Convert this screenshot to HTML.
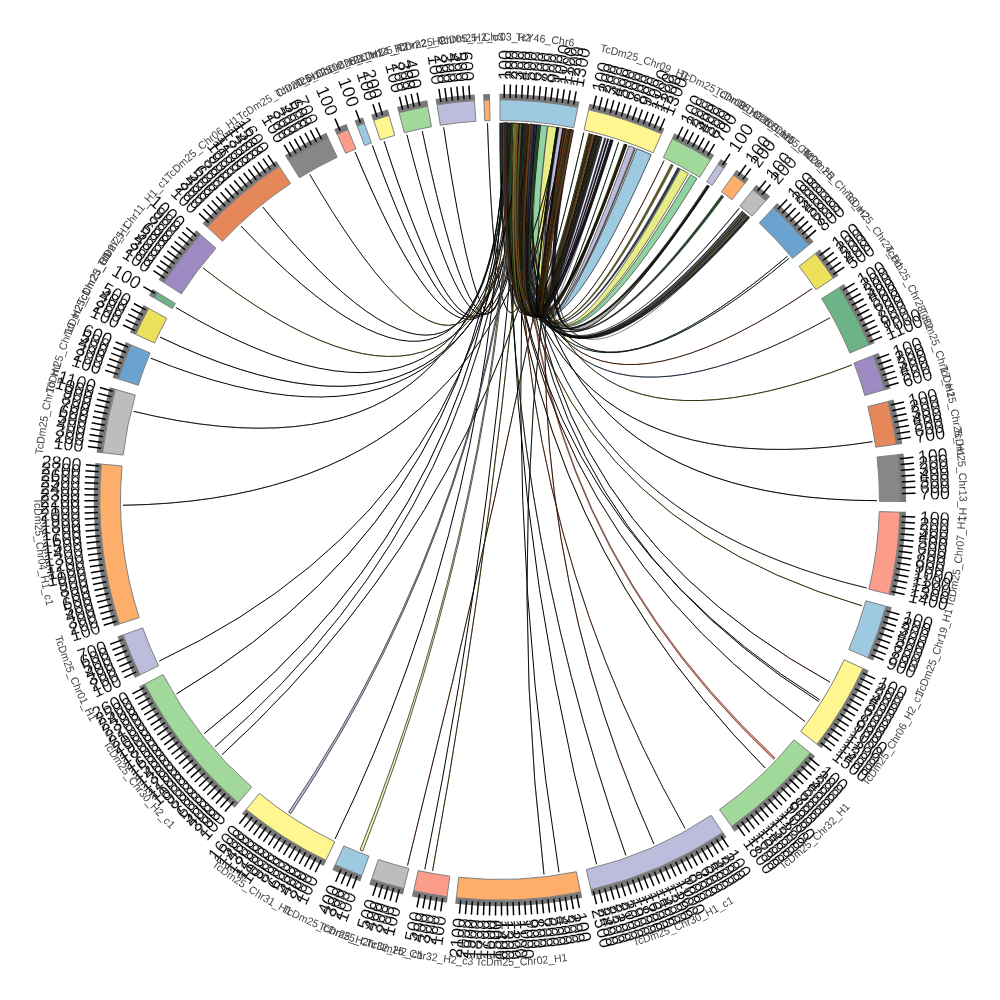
<!DOCTYPE html>
<html><head><meta charset="utf-8"><title>Chord diagram</title>
<style>
html,body{margin:0;padding:0;background:#fff;}
body{width:1000px;height:1000px;overflow:hidden;}
svg{display:block;font-family:"Liberation Sans",sans-serif;}
</style></head><body>
<svg width="1000" height="1000" viewBox="0 0 1000 1000">
<rect width="1000" height="1000" fill="#fff"/>
<g>
<path d="M501.97,123.01 A377,377 0 0 1 523.67,123.74 Q500,500 636.95,148.75 A377,377 0 0 1 651.23,154.66 Q500,500 501.97,123.01 Z" fill="#9ECAE1" stroke="#333" stroke-width="0.8"/>
<path d="M540.06,125.13 A377,377 0 0 1 547.58,126.01 Q500,500 690.49,174.67 A377,377 0 0 1 696.98,178.55 Q500,500 540.06,125.13 Z" fill="#8FD3A0" stroke="#333" stroke-width="0.7"/>
<path d="M547.9,126.06 A377,377 0 0 1 556.7,127.29 Q500,500 680.47,169 A377,377 0 0 1 688.5,173.51 Q500,500 547.9,126.06 Z" fill="#E6EC86" stroke="#333" stroke-width="0.7"/>
<path d="M558.98,127.64 A377,377 0 0 1 563.2,128.33 Q500,500 628.94,145.74 A377,377 0 0 1 634.49,147.8 Q500,500 558.98,127.64 Z" fill="#BCBDDC" stroke="#333" stroke-width="0.7"/>
<path d="M530.56,124.24 A377,377 0 0 1 531.55,124.32 Q500,500 625.02,144.33 A377,377 0 0 1 626.05,144.7 Q500,500 530.56,124.24 Z" fill="#7a7428" stroke="#000" stroke-width="0.28"/>
<path d="M529.79,124.18 Q500,500 406.88,134.68" fill="none" stroke="#000" stroke-width="1.0"/>
<path d="M508.36,123.09 Q500,500 204.14,733.66" fill="none" stroke="#000" stroke-width="1.0"/>
<path d="M508.36,123.09 Q500,500 204.14,733.66" fill="none" stroke="#18243c" stroke-width="0.35"/>
<path d="M534.39,124.57 Q500,500 355.12,151.95" fill="none" stroke="#000" stroke-width="1.0"/>
<path d="M534.39,124.57 Q500,500 355.12,151.95" fill="none" stroke="#572718" stroke-width="0.35"/>
<path d="M505.55,123.04 A377,377 0 0 1 506.98,123.06 Q500,500 610.7,139.62 A377,377 0 0 1 611.08,139.74 Q500,500 505.55,123.04 Z" fill="#20283a" stroke="#000" stroke-width="0.25"/>
<path d="M512.94,123.22 A377,377 0 0 1 515.77,123.33 Q500,500 589.36,133.74 A377,377 0 0 1 589.75,133.84 Q500,500 512.94,123.22 Z" fill="#111111" stroke="#000" stroke-width="0.25"/>
<path d="M537.77,124.9 A377,377 0 0 1 539.08,125.03 Q500,500 604.55,137.79 A377,377 0 0 1 606.13,138.25 Q500,500 537.77,124.9 Z" fill="#2a2050" stroke="#000" stroke-width="0.28"/>
<path d="M508.88,123.1 A377,377 0 0 1 509.79,123.13 Q500,500 744.03,212.63 A377,377 0 0 1 744.68,213.18 Q500,500 508.88,123.1 Z" fill="#20283a" stroke="#000" stroke-width="0.28"/>
<path d="M530.66,124.25 A377,377 0 0 1 532.11,124.37 Q500,500 591.38,134.24 A377,377 0 0 1 591.76,134.34 Q500,500 530.66,124.25 Z" fill="#4a3a7a" stroke="#000" stroke-width="0.25"/>
<path d="M524.33,123.79 A377,377 0 0 1 525.64,123.87 Q500,500 677.57,167.44 A377,377 0 0 1 678.73,168.06 Q500,500 524.33,123.79 Z" fill="#333a4a" stroke="#000" stroke-width="0.28"/>
<path d="M524.76,123.81 A377,377 0 0 1 527.08,123.97 Q500,500 611.96,140.01 A377,377 0 0 1 612.33,140.12 Q500,500 524.76,123.81 Z" fill="#3a4a6a" stroke="#000" stroke-width="0.25"/>
<path d="M523.02,123.7 A377,377 0 0 1 524.33,123.79 Q500,500 678.73,168.06 A377,377 0 0 1 679.89,168.69 Q500,500 523.02,123.7 Z" fill="#2a3a5a" stroke="#000" stroke-width="0.28"/>
<path d="M509.79,123.13 A377,377 0 0 1 510.69,123.15 Q500,500 743.38,212.08 A377,377 0 0 1 744.03,212.63 Q500,500 509.79,123.13 Z" fill="#6a6420" stroke="#000" stroke-width="0.28"/>
<path d="M570.01,129.56 A377,377 0 0 1 571.59,129.86 Q500,500 748.7,216.67 A377,377 0 0 1 749,216.93 Q500,500 570.01,129.56 Z" fill="#2a4a2a" stroke="#000" stroke-width="0.25"/>
<path d="M537.21,124.84 A377,377 0 0 1 540.32,125.16 Q500,500 625.55,144.52 A377,377 0 0 1 625.92,144.65 Q500,500 537.21,124.84 Z" fill="#6a3a1c" stroke="#000" stroke-width="0.25"/>
<path d="M569.05,129.38 A377,377 0 0 1 571.26,129.8 Q500,500 591.06,134.16 A377,377 0 0 1 591.45,134.26 Q500,500 569.05,129.38 Z" fill="#7a7428" stroke="#000" stroke-width="0.25"/>
<path d="M515.92,123.34 Q500,500 443.63,127.24" fill="none" stroke="#000" stroke-width="1.0"/>
<path d="M532.86,124.43 A377,377 0 0 1 534.33,124.57 Q500,500 611.8,139.96 A377,377 0 0 1 613.37,140.45 Q500,500 532.86,124.43 Z" fill="#241a48" stroke="#000" stroke-width="0.28"/>
<path d="M565.14,128.67 Q500,500 222.05,754.7" fill="none" stroke="#000" stroke-width="1.0"/>
<path d="M565.14,128.67 Q500,500 222.05,754.7" fill="none" stroke="#2e4c30" stroke-width="0.35"/>
<path d="M499.46,123 A377,377 0 0 1 501.61,123 Q500,500 597.57,135.85 A377,377 0 0 1 597.95,135.95 Q500,500 499.46,123 Z" fill="#222222" stroke="#000" stroke-width="0.25"/>
<path d="M507.98,123.08 A377,377 0 0 1 508.88,123.1 Q500,500 744.68,213.18 A377,377 0 0 1 745.32,213.74 Q500,500 507.98,123.08 Z" fill="#BCBDDC" stroke="#000" stroke-width="0.28"/>
<path d="M526.16,123.91 A377,377 0 0 1 527.5,124 Q500,500 599.2,136.28 A377,377 0 0 1 599.58,136.39 Q500,500 526.16,123.91 Z" fill="#6a3a1c" stroke="#000" stroke-width="0.25"/>
<path d="M507.07,123.07 A377,377 0 0 1 507.98,123.08 Q500,500 745.32,213.74 A377,377 0 0 1 745.97,214.29 Q500,500 507.07,123.07 Z" fill="#2f4a2a" stroke="#000" stroke-width="0.28"/>
<path d="M563.39,128.37 A377,377 0 0 1 564.43,128.55 Q500,500 595.03,135.17 A377,377 0 0 1 595.98,135.42 Q500,500 563.39,128.37 Z" fill="#3a3a3a" stroke="#000" stroke-width="0.28"/>
<path d="M516.46,123.36 A377,377 0 0 1 519.04,123.48 Q500,500 626.52,144.86 A377,377 0 0 1 626.89,145 Q500,500 516.46,123.36 Z" fill="#5a5a1c" stroke="#000" stroke-width="0.25"/>
<path d="M522.42,123.67 Q500,500 818.66,701.45" fill="none" stroke="#000" stroke-width="1.0"/>
<path d="M522.42,123.67 Q500,500 818.66,701.45" fill="none" stroke="#3f576f" stroke-width="0.35"/>
<path d="M504.16,123.02 Q500,500 861.85,605.81" fill="none" stroke="#000" stroke-width="1.0"/>
<path d="M504.16,123.02 Q500,500 861.85,605.81" fill="none" stroke="#9f9627" stroke-width="0.35"/>
<path d="M532.38,124.39 Q500,500 160.01,337.1" fill="none" stroke="#000" stroke-width="1.0"/>
<path d="M532.38,124.39 Q500,500 160.01,337.1" fill="none" stroke="#3f180c" stroke-width="0.35"/>
<path d="M564.49,128.56 A377,377 0 0 1 565.14,128.67 Q500,500 595.19,135.22 A377,377 0 0 1 595.98,135.42 Q500,500 564.49,128.56 Z" fill="#333a4a" stroke="#000" stroke-width="0.28"/>
<path d="M526.27,123.92 A377,377 0 0 1 527.87,124.03 Q500,500 601.72,136.98 A377,377 0 0 1 602.1,137.09 Q500,500 526.27,123.92 Z" fill="#4a2a16" stroke="#000" stroke-width="0.25"/>
<path d="M565.94,128.81 Q500,500 618.69,142.17" fill="none" stroke="#000" stroke-width="1.0"/>
<path d="M565.94,128.81 Q500,500 618.69,142.17" fill="none" stroke="#2e6f3f" stroke-width="0.35"/>
<path d="M513.16,123.23 A377,377 0 0 1 513.81,123.25 Q500,500 738.78,208.26 A377,377 0 0 1 739.29,208.68 Q500,500 513.16,123.23 Z" fill="#151515" stroke="#000" stroke-width="0.28"/>
<path d="M570.68,129.69 A377,377 0 0 1 573.63,130.26 Q500,500 708.76,186.08 A377,377 0 0 1 709.09,186.3 Q500,500 570.68,129.69 Z" fill="#2a2238" stroke="#000" stroke-width="0.25"/>
<path d="M503.92,123.02 A377,377 0 0 1 505.44,123.04 Q500,500 625.33,144.44 A377,377 0 0 1 625.71,144.58 Q500,500 503.92,123.02 Z" fill="#555555" stroke="#000" stroke-width="0.25"/>
<path d="M518.92,123.47 A377,377 0 0 1 522.04,123.64 Q500,500 600.44,136.63 A377,377 0 0 1 600.82,136.73 Q500,500 518.92,123.47 Z" fill="#7a7428" stroke="#000" stroke-width="0.25"/>
<path d="M519.57,123.51 A377,377 0 0 1 520.39,123.55 Q500,500 708.22,185.72 A377,377 0 0 1 708.83,186.13 Q500,500 519.57,123.51 Z" fill="#4a3a20" stroke="#000" stroke-width="0.28"/>
<path d="M570.21,129.6 A377,377 0 0 1 571.4,129.82 Q500,500 589.71,133.83 A377,377 0 0 1 590.78,134.09 Q500,500 570.21,129.6 Z" fill="#7a7428" stroke="#000" stroke-width="0.28"/>
<path d="M516.34,123.35 Q500,500 159.16,661.11" fill="none" stroke="#000" stroke-width="1.0"/>
<path d="M505.75,123.04 A377,377 0 0 1 509.01,123.11 Q500,500 708.63,185.99 A377,377 0 0 1 708.96,186.21 Q500,500 505.75,123.04 Z" fill="#4a3a7a" stroke="#000" stroke-width="0.25"/>
<path d="M503.61,123.02 Q500,500 335.03,838.99" fill="none" stroke="#000" stroke-width="1.0"/>
<path d="M517.09,123.39 Q500,500 812.18,288.64" fill="none" stroke="#000" stroke-width="1.0"/>
<path d="M517.09,123.39 Q500,500 812.18,288.64" fill="none" stroke="#b75727" stroke-width="0.35"/>
<path d="M521.21,123.6 A377,377 0 0 1 522.03,123.64 Q500,500 706.98,184.9 A377,377 0 0 1 707.6,185.31 Q500,500 521.21,123.6 Z" fill="#6b3a1c" stroke="#000" stroke-width="0.28"/>
<path d="M526,123.9 Q500,500 830.05,682.2" fill="none" stroke="#000" stroke-width="1.0"/>
<path d="M526,123.9 Q500,500 830.05,682.2" fill="none" stroke="#6f271b" stroke-width="0.35"/>
<path d="M526.3,123.92 A377,377 0 0 1 527.61,124.01 Q500,500 775.05,757.83 A377,377 0 0 1 773.69,759.27 Q500,500 526.3,123.92 Z" fill="#E89078" stroke="#3a1a10" stroke-width="0.6"/>
<path d="M530.42,124.23 A377,377 0 0 1 531.87,124.35 Q500,500 745.46,213.85 A377,377 0 0 1 745.76,214.11 Q500,500 530.42,124.23 Z" fill="#111111" stroke="#000" stroke-width="0.25"/>
<path d="M500.81,123 A377,377 0 0 1 502.68,123.01 Q500,500 742.3,211.17 A377,377 0 0 1 742.6,211.43 Q500,500 500.81,123 Z" fill="#3a4a6a" stroke="#000" stroke-width="0.25"/>
<path d="M516.62,123.37 Q500,500 384.13,141.25" fill="none" stroke="#000" stroke-width="1.0"/>
<path d="M516.62,123.37 Q500,500 384.13,141.25" fill="none" stroke="#1e3042" stroke-width="0.35"/>
<path d="M505.03,123.03 A377,377 0 0 1 507.31,123.07 Q500,500 611.57,139.89 A377,377 0 0 1 611.94,140 Q500,500 505.03,123.03 Z" fill="#6a3a1c" stroke="#000" stroke-width="0.25"/>
<path d="M531.55,124.32 A377,377 0 0 1 532.53,124.41 Q500,500 623.98,143.97 A377,377 0 0 1 625.02,144.33 Q500,500 531.55,124.32 Z" fill="#6a6420" stroke="#000" stroke-width="0.28"/>
<path d="M557.84,127.46 A377,377 0 0 1 558.11,127.51 Q500,500 598.1,135.99 A377,377 0 0 1 599.16,136.28 Q500,500 557.84,127.46 Z" fill="#555555" stroke="#000" stroke-width="0.28"/>
<path d="M502.55,123.01 A377,377 0 0 1 503.45,123.02 Q500,500 748.53,216.52 A377,377 0 0 1 749.17,217.08 Q500,500 502.55,123.01 Z" fill="#2a2050" stroke="#000" stroke-width="0.28"/>
<path d="M508.68,123.1 Q500,500 830.05,317.8" fill="none" stroke="#000" stroke-width="1.0"/>
<path d="M508.68,123.1 Q500,500 830.05,317.8" fill="none" stroke="#5787b7" stroke-width="0.35"/>
<path d="M536.64,124.79 A377,377 0 0 1 538.85,125.01 Q500,500 708.42,185.85 A377,377 0 0 1 708.75,186.07 Q500,500 536.64,124.79 Z" fill="#4a2a16" stroke="#000" stroke-width="0.25"/>
<path d="M527.38,124 Q500,500 877,500.66" fill="none" stroke="#000" stroke-width="1.0"/>
<path d="M527.38,124 Q500,500 877,500.66" fill="none" stroke="#271b18" stroke-width="0.35"/>
<path d="M558.24,127.53 Q500,500 123.04,505.26" fill="none" stroke="#000" stroke-width="1.0"/>
<path d="M558.24,127.53 Q500,500 123.04,505.26" fill="none" stroke="#1e3c5a" stroke-width="0.35"/>
<path d="M503.45,123.02 A377,377 0 0 1 504.36,123.03 Q500,500 747.89,215.96 A377,377 0 0 1 748.53,216.52 Q500,500 503.45,123.02 Z" fill="#555555" stroke="#000" stroke-width="0.28"/>
<path d="M513.36,123.24 A377,377 0 0 1 515.5,123.32 Q500,500 626.4,144.82 A377,377 0 0 1 626.77,144.95 Q500,500 513.36,123.24 Z" fill="#222222" stroke="#000" stroke-width="0.25"/>
<path d="M515.79,123.33 A377,377 0 0 1 516.77,123.37 Q500,500 722.34,195.54 A377,377 0 0 1 723.08,196.09 Q500,500 515.79,123.33 Z" fill="#1f3a20" stroke="#000" stroke-width="0.28"/>
<path d="M504.87,123.03 Q500,500 872.46,441.67" fill="none" stroke="#000" stroke-width="1.0"/>
<path d="M504.87,123.03 Q500,500 872.46,441.67" fill="none" stroke="#573018" stroke-width="0.35"/>
<path d="M538.75,125 A377,377 0 0 1 540.7,125.2 Q500,500 599.2,136.29 A377,377 0 0 1 599.58,136.39 Q500,500 538.75,125 Z" fill="#2a2238" stroke="#000" stroke-width="0.25"/>
<path d="M528.6,124.09 A377,377 0 0 1 529.25,124.14 Q500,500 635.1,148.04 A377,377 0 0 1 635.72,148.28 Q500,500 528.6,124.09 Z" fill="#6b3a1c" stroke="#000" stroke-width="0.28"/>
<path d="M566.3,128.87 A377,377 0 0 1 568.26,129.23 Q500,500 612.25,140.1 A377,377 0 0 1 612.63,140.22 Q500,500 566.3,128.87 Z" fill="#6a3a1c" stroke="#000" stroke-width="0.25"/>
<path d="M513.21,123.23 Q500,500 789.22,258.17" fill="none" stroke="#000" stroke-width="1.0"/>
<path d="M513.21,123.23 Q500,500 789.22,258.17" fill="none" stroke="#3f6f57" stroke-width="0.35"/>
<path d="M538.77,125 A377,377 0 0 1 540.38,125.17 Q500,500 599.66,136.41 A377,377 0 0 1 600.04,136.52 Q500,500 538.77,125 Z" fill="#3a6a3a" stroke="#000" stroke-width="0.25"/>
<path d="M556.52,127.26 A377,377 0 0 1 558.03,127.49 Q500,500 708.2,185.71 A377,377 0 0 1 708.53,185.92 Q500,500 556.52,127.26 Z" fill="#4a2a16" stroke="#000" stroke-width="0.25"/>
<path d="M525.02,123.83 A377,377 0 0 1 528.12,124.05 Q500,500 748.42,216.42 A377,377 0 0 1 748.71,216.68 Q500,500 525.02,123.83 Z" fill="#222222" stroke="#000" stroke-width="0.25"/>
<path d="M525.97,123.9 A377,377 0 0 1 527.12,123.98 Q500,500 672.33,164.69 A377,377 0 0 1 673.5,165.29 Q500,500 525.97,123.9 Z" fill="#7a7428" stroke="#000" stroke-width="0.28"/>
<path d="M569.66,129.49 A377,377 0 0 1 571.82,129.9 Q500,500 600.16,136.55 A377,377 0 0 1 600.55,136.65 Q500,500 569.66,129.49 Z" fill="#222222" stroke="#000" stroke-width="0.25"/>
<path d="M531.82,124.35 Q500,500 558.98,872.36" fill="none" stroke="#000" stroke-width="1.0"/>
<path d="M527.12,123.98 A377,377 0 0 1 528.27,124.06 Q500,500 671.15,164.09 A377,377 0 0 1 672.33,164.69 Q500,500 527.12,123.98 Z" fill="#6a6420" stroke="#000" stroke-width="0.28"/>
<path d="M515.42,123.32 Q500,500 215.04,746.84" fill="none" stroke="#000" stroke-width="1.0"/>
<path d="M515.42,123.32 Q500,500 215.04,746.84" fill="none" stroke="#6f4830" stroke-width="0.35"/>
<path d="M519.12,123.49 Q500,500 866.58,588.01" fill="none" stroke="#000" stroke-width="1.0"/>
<path d="M519.12,123.49 Q500,500 866.58,588.01" fill="none" stroke="#4f789f" stroke-width="0.35"/>
<path d="M504.24,123.02 Q500,500 262.75,207.02" fill="none" stroke="#000" stroke-width="1.0"/>
<path d="M504.24,123.02 Q500,500 262.75,207.02" fill="none" stroke="#2e5730" stroke-width="0.35"/>
<path d="M504.4,123.03 Q500,500 240.97,226.08" fill="none" stroke="#000" stroke-width="1.0"/>
<path d="M504.74,123.03 Q500,500 805,721.6" fill="none" stroke="#000" stroke-width="1.0"/>
<path d="M504.74,123.03 Q500,500 805,721.6" fill="none" stroke="#6f331b" stroke-width="0.35"/>
<path d="M563.62,128.41 Q500,500 653.94,844.14" fill="none" stroke="#000" stroke-width="1.0"/>
<path d="M563.62,128.41 Q500,500 653.94,844.14" fill="none" stroke="#9f3f1e" stroke-width="0.35"/>
<path d="M529.6,124.16 Q500,500 150.7,358.16" fill="none" stroke="#000" stroke-width="1.0"/>
<path d="M507.36,123.07 Q500,500 625.85,855.38" fill="none" stroke="#000" stroke-width="1.0"/>
<path d="M507.36,123.07 Q500,500 625.85,855.38" fill="none" stroke="#57571e" stroke-width="0.35"/>
<path d="M503.17,123.01 Q500,500 819.71,699.78" fill="none" stroke="#000" stroke-width="1.0"/>
<path d="M510.65,123.15 A377,377 0 0 1 512.98,123.22 Q500,500 626.05,144.7 A377,377 0 0 1 626.42,144.83 Q500,500 510.65,123.15 Z" fill="#222222" stroke="#000" stroke-width="0.25"/>
<path d="M522.13,123.65 Q500,500 372.3,145.29" fill="none" stroke="#000" stroke-width="1.0"/>
<path d="M522.13,123.65 Q500,500 372.3,145.29" fill="none" stroke="#573018" stroke-width="0.35"/>
<path d="M518.74,123.47 A377,377 0 0 1 519.57,123.51 Q500,500 708.83,186.13 A377,377 0 0 1 709.45,186.54 Q500,500 518.74,123.47 Z" fill="#2f4a2a" stroke="#000" stroke-width="0.28"/>
<path d="M562.54,128.22 A377,377 0 0 1 564.84,128.62 Q500,500 625.83,144.62 A377,377 0 0 1 626.21,144.75 Q500,500 562.54,128.22 Z" fill="#111111" stroke="#000" stroke-width="0.25"/>
<path d="M557.19,127.36 Q500,500 487.5,123.21" fill="none" stroke="#000" stroke-width="1.0"/>
<path d="M557.19,127.36 Q500,500 487.5,123.21" fill="none" stroke="#573018" stroke-width="0.35"/>
<path d="M513.16,123.23 A377,377 0 0 1 514.8,123.29 Q500,500 362.75,851.13 A377,377 0 0 1 359.99,850.04 Q500,500 513.16,123.23 Z" fill="#F4F0B0" stroke="#111" stroke-width="0.7"/>
<path d="M514.78,123.29 A377,377 0 0 1 517.24,123.39 Q500,500 590.75,134.09 A377,377 0 0 1 591.13,134.18 Q500,500 514.78,123.29 Z" fill="#6a3a1c" stroke="#000" stroke-width="0.25"/>
<path d="M565.14,128.67 A377,377 0 0 1 565.79,128.78 Q500,500 594.39,135.01 A377,377 0 0 1 595.19,135.22 Q500,500 565.14,128.67 Z" fill="#151515" stroke="#000" stroke-width="0.28"/>
<path d="M558.38,127.55 A377,377 0 0 1 558.65,127.59 Q500,500 595.98,135.42 A377,377 0 0 1 597.05,135.7 Q500,500 558.38,127.55 Z" fill="#555555" stroke="#000" stroke-width="0.28"/>
<path d="M529.58,124.16 A377,377 0 0 1 530.56,124.24 Q500,500 626.05,144.7 A377,377 0 0 1 627.08,145.07 Q500,500 529.58,124.16 Z" fill="#4a4a18" stroke="#000" stroke-width="0.28"/>
<path d="M516.08,123.34 A377,377 0 0 1 519.23,123.49 Q500,500 624.44,144.13 A377,377 0 0 1 624.82,144.26 Q500,500 516.08,123.34 Z" fill="#4a6a30" stroke="#000" stroke-width="0.25"/>
<path d="M532.96,124.44 Q500,500 851.96,364.9" fill="none" stroke="#000" stroke-width="1.0"/>
<path d="M532.96,124.44 Q500,500 851.96,364.9" fill="none" stroke="#9f9627" stroke-width="0.35"/>
<path d="M530.84,124.26 A377,377 0 0 1 534.03,124.54 Q500,500 707.81,185.45 A377,377 0 0 1 708.14,185.66 Q500,500 530.84,124.26 Z" fill="#333a4a" stroke="#000" stroke-width="0.25"/>
<path d="M504.36,123.03 A377,377 0 0 1 505.26,123.04 Q500,500 747.25,215.4 A377,377 0 0 1 747.89,215.96 Q500,500 504.36,123.03 Z" fill="#4a6a9a" stroke="#000" stroke-width="0.28"/>
<path d="M505.75,123.04 Q500,500 765.18,767.97" fill="none" stroke="#000" stroke-width="1.0"/>
<path d="M505.75,123.04 Q500,500 765.18,767.97" fill="none" stroke="#3f2718" stroke-width="0.35"/>
<path d="M523.37,123.73 Q500,500 422.26,131.1" fill="none" stroke="#000" stroke-width="1.0"/>
<path d="M523.37,123.73 Q500,500 422.26,131.1" fill="none" stroke="#6f331b" stroke-width="0.35"/>
<path d="M529.25,124.14 Q500,500 583.84,132.44" fill="none" stroke="#000" stroke-width="1.0"/>
<path d="M529.25,124.14 Q500,500 583.84,132.44" fill="none" stroke="#2e4c30" stroke-width="0.35"/>
<path d="M507.07,123.07 Q500,500 176.64,693.83" fill="none" stroke="#000" stroke-width="1.0"/>
<path d="M507.07,123.07 Q500,500 176.64,693.83" fill="none" stroke="#18243c" stroke-width="0.35"/>
<path d="M569.03,129.37 A377,377 0 0 1 570.21,129.6 Q500,500 590.78,134.09 A377,377 0 0 1 591.84,134.36 Q500,500 569.03,129.37 Z" fill="#6a6420" stroke="#000" stroke-width="0.28"/>
<path d="M535.29,124.66 Q500,500 787.53,256.16" fill="none" stroke="#000" stroke-width="1.0"/>
<path d="M535.29,124.66 Q500,500 787.53,256.16" fill="none" stroke="#2e5730" stroke-width="0.35"/>
<path d="M520.76,123.57 A377,377 0 0 1 522.33,123.66 Q500,500 610.96,139.7 A377,377 0 0 1 611.34,139.81 Q500,500 520.76,123.57 Z" fill="#222222" stroke="#000" stroke-width="0.25"/>
<path d="M536.13,124.74 A377,377 0 0 1 537.44,124.86 Q500,500 607.39,138.62 A377,377 0 0 1 608.96,139.09 Q500,500 536.13,124.74 Z" fill="#151515" stroke="#000" stroke-width="0.28"/>
<path d="M566.11,128.84 A377,377 0 0 1 567.41,129.08 Q500,500 593.12,134.68 A377,377 0 0 1 594.39,135.01 Q500,500 566.11,128.84 Z" fill="#9a5a2a" stroke="#000" stroke-width="0.28"/>
<path d="M506.17,123.05 A377,377 0 0 1 507.07,123.07 Q500,500 745.97,214.29 A377,377 0 0 1 746.61,214.85 Q500,500 506.17,123.05 Z" fill="#6a6420" stroke="#000" stroke-width="0.28"/>
<path d="M506.29,123.05 A377,377 0 0 1 507.64,123.08 Q500,500 599.3,136.31 A377,377 0 0 1 599.68,136.42 Q500,500 506.29,123.05 Z" fill="#5a5a1c" stroke="#000" stroke-width="0.25"/>
<path d="M569.25,129.42 A377,377 0 0 1 571.89,129.92 Q500,500 708.23,185.72 A377,377 0 0 1 708.55,185.94 Q500,500 569.25,129.42 Z" fill="#111111" stroke="#000" stroke-width="0.25"/>
<path d="M510.69,123.15 A377,377 0 0 1 511.6,123.18 Q500,500 742.73,211.54 A377,377 0 0 1 743.38,212.08 Q500,500 510.69,123.15 Z" fill="#6BA3D0" stroke="#000" stroke-width="0.28"/>
<path d="M570.78,129.7 Q500,500 407.52,865.48" fill="none" stroke="#000" stroke-width="1.0"/>
<path d="M570.78,129.7 Q500,500 407.52,865.48" fill="none" stroke="#9f3f27" stroke-width="0.35"/>
<path d="M557.3,127.38 A377,377 0 0 1 557.57,127.42 Q500,500 600.22,136.57 A377,377 0 0 1 601.28,136.86 Q500,500 557.3,127.38 Z" fill="#555555" stroke="#000" stroke-width="0.28"/>
<path d="M519.73,123.52 A377,377 0 0 1 521.37,123.61 Q500,500 290.82,813.65 A377,377 0 0 1 288.64,812.18 Q500,500 519.73,123.52 Z" fill="#BCBDDC" stroke="#111" stroke-width="0.7"/>
<path d="M521.98,123.64 Q500,500 685.07,828.45" fill="none" stroke="#000" stroke-width="1.0"/>
<path d="M521.98,123.64 Q500,500 685.07,828.45" fill="none" stroke="#b76024" stroke-width="0.35"/>
<path d="M501.64,123 A377,377 0 0 1 502.55,123.01 Q500,500 749.17,217.08 A377,377 0 0 1 749.81,217.64 Q500,500 501.64,123 Z" fill="#2f4a2a" stroke="#000" stroke-width="0.28"/>
<path d="M510.13,123.14 Q500,500 133.57,411.35" fill="none" stroke="#000" stroke-width="1.0"/>
<path d="M510.13,123.14 Q500,500 133.57,411.35" fill="none" stroke="#2e4c30" stroke-width="0.35"/>
<path d="M558.11,127.51 A377,377 0 0 1 558.38,127.55 Q500,500 597.05,135.7 A377,377 0 0 1 598.1,135.99 Q500,500 558.11,127.51 Z" fill="#4a4a4a" stroke="#000" stroke-width="0.28"/>
<path d="M569.41,129.44 Q500,500 543.98,874.43" fill="none" stroke="#000" stroke-width="1.0"/>
<path d="M569.41,129.44 Q500,500 543.98,874.43" fill="none" stroke="#2e4c30" stroke-width="0.35"/>
<path d="M568.91,129.35 A377,377 0 0 1 571.61,129.86 Q500,500 625.1,144.36 A377,377 0 0 1 625.48,144.49 Q500,500 568.91,129.35 Z" fill="#2a4a2a" stroke="#000" stroke-width="0.25"/>
<path d="M527.96,124.04 Q500,500 202.92,267.9" fill="none" stroke="#000" stroke-width="1.0"/>
<path d="M527.96,124.04 Q500,500 202.92,267.9" fill="none" stroke="#9f9627" stroke-width="0.35"/>
<path d="M505.71,123.04 A377,377 0 0 1 507.14,123.07 Q500,500 625.71,144.58 A377,377 0 0 1 626.08,144.71 Q500,500 505.71,123.04 Z" fill="#111111" stroke="#000" stroke-width="0.25"/>
<path d="M526.86,123.96 Q500,500 664.08,160.58" fill="none" stroke="#000" stroke-width="1.0"/>
<path d="M526.86,123.96 Q500,500 664.08,160.58" fill="none" stroke="#9f5727" stroke-width="0.35"/>
<path d="M511.6,123.18 A377,377 0 0 1 512.5,123.21 Q500,500 742.08,210.99 A377,377 0 0 1 742.73,211.54 Q500,500 511.6,123.18 Z" fill="#333a4a" stroke="#000" stroke-width="0.28"/>
<path d="M514.8,123.29 A377,377 0 0 1 515.79,123.33 Q500,500 723.08,196.09 A377,377 0 0 1 723.82,196.63 Q500,500 514.8,123.29 Z" fill="#2a5a30" stroke="#000" stroke-width="0.28"/>
<path d="M505.26,123.04 A377,377 0 0 1 506.17,123.05 Q500,500 746.61,214.85 A377,377 0 0 1 747.25,215.4 Q500,500 505.26,123.04 Z" fill="#6b3a1c" stroke="#000" stroke-width="0.28"/>
<path d="M563.57,128.4 A377,377 0 0 1 565.18,128.68 Q500,500 744.08,212.67 A377,377 0 0 1 744.38,212.93 Q500,500 563.57,128.4 Z" fill="#6a3a1c" stroke="#000" stroke-width="0.25"/>
<path d="M520.63,123.56 Q500,500 424.84,869.43" fill="none" stroke="#000" stroke-width="1.0"/>
<path d="M503.05,123.01 A377,377 0 0 1 505.47,123.04 Q500,500 591.41,134.25 A377,377 0 0 1 591.8,134.35 Q500,500 503.05,123.01 Z" fill="#555555" stroke="#000" stroke-width="0.25"/>
<path d="M509.96,123.13 A377,377 0 0 1 512.26,123.2 Q500,500 596.15,135.47 A377,377 0 0 1 596.54,135.57 Q500,500 509.96,123.13 Z" fill="#2f4a2a" stroke="#000" stroke-width="0.25"/>
<path d="M512.2,123.2 Q500,500 596.62,864.41" fill="none" stroke="#000" stroke-width="1.0"/>
<path d="M529.12,124.13 A377,377 0 0 1 531.34,124.31 Q500,500 596.15,135.47 A377,377 0 0 1 596.53,135.57 Q500,500 529.12,124.13 Z" fill="#3a6a3a" stroke="#000" stroke-width="0.25"/>
<path d="M520.39,123.55 A377,377 0 0 1 521.21,123.6 Q500,500 707.6,185.31 A377,377 0 0 1 708.22,185.72 Q500,500 520.39,123.55 Z" fill="#2f4a2a" stroke="#000" stroke-width="0.28"/>
<path d="M567.41,129.08 A377,377 0 0 1 568.7,129.31 Q500,500 591.84,134.36 A377,377 0 0 1 593.12,134.68 Q500,500 567.41,129.08 Z" fill="#6b3a1c" stroke="#000" stroke-width="0.28"/>
<path d="M537.14,124.83 A377,377 0 0 1 539.39,125.06 Q500,500 626.17,144.74 A377,377 0 0 1 626.54,144.87 Q500,500 537.14,124.83 Z" fill="#2a4a2a" stroke="#000" stroke-width="0.25"/>
<path d="M511.01,123.16 A377,377 0 0 1 513.28,123.23 Q500,500 597.39,135.8 A377,377 0 0 1 597.77,135.9 Q500,500 511.01,123.16 Z" fill="#2f4a2a" stroke="#000" stroke-width="0.25"/>
<path d="M557.57,127.42 A377,377 0 0 1 557.84,127.46 Q500,500 599.16,136.28 A377,377 0 0 1 600.22,136.57 Q500,500 557.57,127.42 Z" fill="#3a3a3a" stroke="#000" stroke-width="0.28"/>
<path d="M529.38,124.15 Q500,500 432.59,870.92" fill="none" stroke="#000" stroke-width="1.0"/>
<path d="M529.38,124.15 Q500,500 432.59,870.92" fill="none" stroke="#877e1e" stroke-width="0.35"/>
<path d="M516.77,123.37 A377,377 0 0 1 517.76,123.42 Q500,500 721.6,195 A377,377 0 0 1 722.34,195.54 Q500,500 516.77,123.37 Z" fill="#2f4a2a" stroke="#000" stroke-width="0.28"/>
<path d="M519.16,123.49 A377,377 0 0 1 521.42,123.61 Q500,500 625.1,144.36 A377,377 0 0 1 625.47,144.49 Q500,500 519.16,123.49 Z" fill="#8a5226" stroke="#000" stroke-width="0.25"/>
<path d="M529.18,124.13 A377,377 0 0 1 531.64,124.33 Q500,500 612.19,140.08 A377,377 0 0 1 612.57,140.2 Q500,500 529.18,124.13 Z" fill="#6a3a1c" stroke="#000" stroke-width="0.25"/>
<path d="M519.45,123.5 Q500,500 175.84,307.53" fill="none" stroke="#000" stroke-width="1.0"/>
<path d="M519.74,123.52 A377,377 0 0 1 521.6,123.62 Q500,500 589.13,133.69 A377,377 0 0 1 589.51,133.78 Q500,500 519.74,123.52 Z" fill="#3a6a3a" stroke="#000" stroke-width="0.25"/>
<path d="M511.36,123.17 Q500,500 309.79,174.5" fill="none" stroke="#000" stroke-width="1.0"/>
<path d="M511.36,123.17 Q500,500 309.79,174.5" fill="none" stroke="#877e1e" stroke-width="0.35"/>
<path d="M571.07,129.76 A377,377 0 0 1 573.21,130.18 Q500,500 589.2,133.7 A377,377 0 0 1 589.58,133.8 Q500,500 571.07,129.76 Z" fill="#5a5a1c" stroke="#000" stroke-width="0.25"/>
<path d="M571.4,129.82 A377,377 0 0 1 572.58,130.05 Q500,500 588.65,133.57 A377,377 0 0 1 589.71,133.83 Q500,500 571.4,129.82 Z" fill="#6a6420" stroke="#000" stroke-width="0.28"/>
<path d="M534.33,124.57 A377,377 0 0 1 535.81,124.7 Q500,500 610.22,139.47 A377,377 0 0 1 611.8,139.96 Q500,500 534.33,124.57 Z" fill="#2a2050" stroke="#000" stroke-width="0.28"/>
<path d="M515.72,123.33 A377,377 0 0 1 518.62,123.46 Q500,500 626.19,144.75 A377,377 0 0 1 626.56,144.88 Q500,500 515.72,123.33 Z" fill="#8a5226" stroke="#000" stroke-width="0.25"/>
<path d="M557.03,127.34 A377,377 0 0 1 557.3,127.38 Q500,500 601.28,136.86 A377,377 0 0 1 602.33,137.15 Q500,500 557.03,127.34 Z" fill="#444444" stroke="#000" stroke-width="0.28"/>
<path d="M504.38,123.03 A377,377 0 0 1 506.63,123.06 Q500,500 610.45,139.54 A377,377 0 0 1 610.83,139.66 Q500,500 504.38,123.03 Z" fill="#555555" stroke="#000" stroke-width="0.25"/>
<path d="M514.14,123.27 A377,377 0 0 1 516.72,123.37 Q500,500 590.83,134.11 A377,377 0 0 1 591.21,134.2 Q500,500 514.14,123.27 Z" fill="#7a7428" stroke="#000" stroke-width="0.25"/>
<path d="M570.64,129.68 A377,377 0 0 1 573.21,130.18 Q500,500 708.8,186.1 A377,377 0 0 1 709.12,186.32 Q500,500 570.64,129.68 Z" fill="#222222" stroke="#000" stroke-width="0.25"/>
<path d="M570.93,129.73 A377,377 0 0 1 573.41,130.22 Q500,500 598.9,136.2 A377,377 0 0 1 599.28,136.31 Q500,500 570.93,129.73 Z" fill="#6a3a1c" stroke="#000" stroke-width="0.25"/>
<path d="M504.3,123.02 A377,377 0 0 1 506.73,123.06 Q500,500 611.92,140 A377,377 0 0 1 612.3,140.11 Q500,500 504.3,123.02 Z" fill="#4a2a16" stroke="#000" stroke-width="0.25"/>
</g>
<path d="M500,99.8 A400.2,400.2 0 0 1 577.73,107.42 L573.71,127.73 A379.5,379.5 0 0 0 500,120.5 Z" fill="#9ECAE1" stroke="#808080" stroke-width="1"/>
<path d="M499.43,93.8 A406.2,406.2 0 0 1 579.45,101.65 L578.28,107.53 A400.2,400.2 0 0 0 499.44,99.8 Z" fill="#787878"/>
<path d="M588.66,109.75 A400.2,400.2 0 0 1 661.5,133.83 L653.15,152.77 A379.5,379.5 0 0 0 584.08,129.93 Z" fill="#FFF68F" stroke="#808080" stroke-width="1"/>
<path d="M589.44,103.77 A406.2,406.2 0 0 1 664.44,128.57 L662.01,134.06 A400.2,400.2 0 0 0 588.12,109.62 Z" fill="#787878"/>
<path d="M672.29,138.79 A400.2,400.2 0 0 1 710.59,159.69 L699.7,177.29 A379.5,379.5 0 0 0 663.38,157.47 Z" fill="#A1D99B" stroke="#808080" stroke-width="1"/>
<path d="M674.36,133.13 A406.2,406.2 0 0 1 714.23,154.89 L711.07,159.98 A400.2,400.2 0 0 0 671.79,138.55 Z" fill="#787878"/>
<path d="M717.96,164.36 A400.2,400.2 0 0 1 723.79,168.22 L712.21,185.38 A379.5,379.5 0 0 0 706.69,181.72 Z" fill="#BCBDDC" stroke="#808080" stroke-width="1"/>
<path d="M720.76,159.02 A406.2,406.2 0 0 1 727.61,163.56 L724.25,168.53 A400.2,400.2 0 0 0 717.5,164.06 Z" fill="#787878"/>
<path d="M733.53,175 A400.2,400.2 0 0 1 744.73,183.35 L732.07,199.73 A379.5,379.5 0 0 0 721.45,191.81 Z" fill="#FDAE6B" stroke="#808080" stroke-width="1"/>
<path d="M736.57,169.8 A406.2,406.2 0 0 1 748.85,178.95 L745.18,183.69 A400.2,400.2 0 0 0 733.08,174.68 Z" fill="#787878"/>
<path d="M752.94,189.87 A400.2,400.2 0 0 1 765.7,200.73 L751.96,216.21 A379.5,379.5 0 0 0 739.86,205.91 Z" fill="#BDBDBD" stroke="#808080" stroke-width="1"/>
<path d="M756.29,184.86 A406.2,406.2 0 0 1 770.11,196.62 L766.12,201.1 A400.2,400.2 0 0 0 752.5,189.51 Z" fill="#787878"/>
<path d="M773.45,207.79 A400.2,400.2 0 0 1 808.58,245.17 L792.62,258.35 A379.5,379.5 0 0 0 759.3,222.9 Z" fill="#6BA3D0" stroke="#808080" stroke-width="1"/>
<path d="M777.13,203.02 A406.2,406.2 0 0 1 813.57,241.79 L808.94,245.6 A400.2,400.2 0 0 0 773.04,207.41 Z" fill="#787878"/>
<path d="M815.36,253.61 A400.2,400.2 0 0 1 833.14,278.24 L815.91,289.71 A379.5,379.5 0 0 0 799.05,266.36 Z" fill="#EDE05A" stroke="#808080" stroke-width="1"/>
<path d="M819.74,249.47 A406.2,406.2 0 0 1 838.45,275.39 L833.45,278.71 A400.2,400.2 0 0 0 815.02,253.17 Z" fill="#787878"/>
<path d="M839.2,287.63 A400.2,400.2 0 0 1 868.93,344.92 L849.85,352.94 A379.5,379.5 0 0 0 821.66,298.61 Z" fill="#6DB388" stroke="#808080" stroke-width="1"/>
<path d="M843.99,283.97 A406.2,406.2 0 0 1 874.68,343.11 L869.15,345.43 A400.2,400.2 0 0 0 838.91,287.16 Z" fill="#787878"/>
<path d="M873.24,355.6 A400.2,400.2 0 0 1 884.7,389.69 L864.8,395.4 A379.5,379.5 0 0 0 853.94,363.07 Z" fill="#9E8AC3" stroke="#808080" stroke-width="1"/>
<path d="M878.63,352.91 A406.2,406.2 0 0 1 890.62,388.58 L884.85,390.23 A400.2,400.2 0 0 0 873.04,355.08 Z" fill="#787878"/>
<path d="M887.89,401.49 A400.2,400.2 0 0 1 896.31,444.3 L875.81,447.18 A379.5,379.5 0 0 0 867.82,406.58 Z" fill="#E6875A" stroke="#808080" stroke-width="1"/>
<path d="M893.56,399.46 A406.2,406.2 0 0 1 902.33,444.03 L896.38,444.86 A400.2,400.2 0 0 0 887.75,400.95 Z" fill="#787878"/>
<path d="M897.63,454.7 A400.2,400.2 0 0 1 900.2,501.4 L879.5,501.32 A379.5,379.5 0 0 0 877.06,457.04 Z" fill="#878787" stroke="#808080" stroke-width="1"/>
<path d="M903.52,453.45 A406.2,406.2 0 0 1 906.2,501.99 L900.2,501.96 A400.2,400.2 0 0 0 897.56,454.14 Z" fill="#787878"/>
<path d="M900.01,512.22 A400.2,400.2 0 0 1 888.98,594.1 L868.86,589.24 A379.5,379.5 0 0 0 879.32,511.59 Z" fill="#FC9D8B" stroke="#808080" stroke-width="1"/>
<path d="M906.03,511.84 A406.2,406.2 0 0 1 894.68,596.07 L888.85,594.65 A400.2,400.2 0 0 0 900.03,511.66 Z" fill="#787878"/>
<path d="M885.83,606.28 A400.2,400.2 0 0 1 867.84,657.66 L848.81,649.5 A379.5,379.5 0 0 0 865.87,600.78 Z" fill="#9ECAE1" stroke="#808080" stroke-width="1"/>
<path d="M891.77,607.32 A406.2,406.2 0 0 1 873.13,660.54 L867.62,658.17 A400.2,400.2 0 0 0 885.98,605.74 Z" fill="#787878"/>
<path d="M863,668.5 A400.2,400.2 0 0 1 817.07,744.18 L800.67,731.55 A379.5,379.5 0 0 0 844.22,659.78 Z" fill="#FFF68F" stroke="#808080" stroke-width="1"/>
<path d="M868.68,670.51 A406.2,406.2 0 0 1 821.48,748.29 L816.73,744.62 A400.2,400.2 0 0 0 863.23,667.99 Z" fill="#787878"/>
<path d="M810.13,752.94 A400.2,400.2 0 0 1 731.54,826.42 L719.57,809.53 A379.5,379.5 0 0 0 794.09,739.86 Z" fill="#A1D99B" stroke="#808080" stroke-width="1"/>
<path d="M815.14,756.29 A406.2,406.2 0 0 1 734.55,831.64 L731.09,826.74 A400.2,400.2 0 0 0 810.49,752.5 Z" fill="#787878"/>
<path d="M722.63,832.56 A400.2,400.2 0 0 1 591.05,889.71 L586.34,869.55 A379.5,379.5 0 0 0 711.11,815.36 Z" fill="#BCBDDC" stroke="#808080" stroke-width="1"/>
<path d="M726.44,837.23 A406.2,406.2 0 0 1 591.86,895.68 L590.5,889.83 A400.2,400.2 0 0 0 723.09,832.25 Z" fill="#787878"/>
<path d="M580.47,892.03 A400.2,400.2 0 0 1 456.43,897.82 L458.69,877.24 A379.5,379.5 0 0 0 576.31,871.75 Z" fill="#FDAE6B" stroke="#808080" stroke-width="1"/>
<path d="M582.23,897.79 A406.2,406.2 0 0 1 455.21,903.72 L455.88,897.76 A400.2,400.2 0 0 0 581.02,891.91 Z" fill="#787878"/>
<path d="M447.07,896.68 A400.2,400.2 0 0 1 413.72,890.79 L418.18,870.58 A379.5,379.5 0 0 0 449.81,876.17 Z" fill="#FC9D8B" stroke="#808080" stroke-width="1"/>
<path d="M446.84,902.71 A406.2,406.2 0 0 1 411.87,896.53 L413.18,890.67 A400.2,400.2 0 0 0 447.62,896.76 Z" fill="#787878"/>
<path d="M403.86,888.48 A400.2,400.2 0 0 1 371.69,879.07 L378.33,859.47 A379.5,379.5 0 0 0 408.83,868.39 Z" fill="#BDBDBD" stroke="#808080" stroke-width="1"/>
<path d="M402.97,894.44 A406.2,406.2 0 0 1 369.23,884.57 L371.16,878.89 A400.2,400.2 0 0 0 404.4,888.61 Z" fill="#787878"/>
<path d="M361.81,875.58 A400.2,400.2 0 0 1 335.31,864.74 L343.83,845.88 A379.5,379.5 0 0 0 368.96,856.16 Z" fill="#9ECAE1" stroke="#808080" stroke-width="1"/>
<path d="M360.27,881.41 A406.2,406.2 0 0 1 332.33,869.98 L334.8,864.51 A400.2,400.2 0 0 0 362.34,875.78 Z" fill="#787878"/>
<path d="M325.82,860.31 A400.2,400.2 0 0 1 246.25,809.47 L259.38,793.46 A379.5,379.5 0 0 0 334.83,841.67 Z" fill="#FFF68F" stroke="#808080" stroke-width="1"/>
<path d="M323.72,865.96 A406.2,406.2 0 0 1 242.01,813.75 L245.82,809.11 A400.2,400.2 0 0 0 326.32,860.55 Z" fill="#787878"/>
<path d="M238.24,802.72 A400.2,400.2 0 0 1 144.7,684.17 L163.07,674.65 A379.5,379.5 0 0 0 251.78,787.06 Z" fill="#A1D99B" stroke="#808080" stroke-width="1"/>
<path d="M234.74,807.63 A406.2,406.2 0 0 1 139.11,686.43 L144.44,683.68 A400.2,400.2 0 0 0 238.66,803.09 Z" fill="#787878"/>
<path d="M140,674.81 A400.2,400.2 0 0 1 123.22,634.91 L142.71,627.93 A379.5,379.5 0 0 0 158.62,665.77 Z" fill="#BCBDDC" stroke="#808080" stroke-width="1"/>
<path d="M134.85,677.94 A406.2,406.2 0 0 1 117.38,636.39 L123.04,634.38 A400.2,400.2 0 0 0 140.24,675.31 Z" fill="#787878"/>
<path d="M119.5,624 A400.2,400.2 0 0 1 101.42,464.08 L122.03,465.93 A379.5,379.5 0 0 0 139.18,617.59 Z" fill="#FDAE6B" stroke="#808080" stroke-width="1"/>
<path d="M113.97,626.4 A406.2,406.2 0 0 1 95.49,462.97 L101.47,463.52 A400.2,400.2 0 0 0 119.67,624.53 Z" fill="#787878"/>
<path d="M102.62,452.61 A400.2,400.2 0 0 1 115.4,389.35 L135.29,395.08 A379.5,379.5 0 0 0 123.17,455.07 Z" fill="#BDBDBD" stroke="#808080" stroke-width="1"/>
<path d="M96.59,452.47 A406.2,406.2 0 0 1 109.79,387.15 L115.55,388.82 A400.2,400.2 0 0 0 102.55,453.17 Z" fill="#787878"/>
<path d="M118.53,378.99 A400.2,400.2 0 0 1 131.07,344.92 L150.15,352.94 A379.5,379.5 0 0 0 138.26,385.25 Z" fill="#6BA3D0" stroke="#808080" stroke-width="1"/>
<path d="M112.64,377.72 A406.2,406.2 0 0 1 125.76,342.07 L131.29,344.4 A400.2,400.2 0 0 0 118.36,379.52 Z" fill="#787878"/>
<path d="M135.69,334.36 A400.2,400.2 0 0 1 148.63,308.43 L166.81,318.34 A379.5,379.5 0 0 0 154.53,342.93 Z" fill="#EDE05A" stroke="#808080" stroke-width="1"/>
<path d="M129.99,332.39 A406.2,406.2 0 0 1 143.64,305.06 L148.9,307.94 A400.2,400.2 0 0 0 135.46,334.87 Z" fill="#787878"/>
<path d="M154.47,298.09 A400.2,400.2 0 0 1 157.68,292.69 L175.39,303.41 A379.5,379.5 0 0 0 172.34,308.53 Z" fill="#6DB388" stroke="#808080" stroke-width="1"/>
<path d="M149,295.55 A406.2,406.2 0 0 1 152.85,289.09 L157.97,292.21 A400.2,400.2 0 0 0 154.19,298.57 Z" fill="#787878"/>
<path d="M163.98,282.62 A400.2,400.2 0 0 1 200.5,234.56 L215.99,248.29 A379.5,379.5 0 0 0 181.36,293.87 Z" fill="#9E8AC3" stroke="#808080" stroke-width="1"/>
<path d="M158.64,279.84 A406.2,406.2 0 0 1 196.39,230.15 L200.87,234.14 A400.2,400.2 0 0 0 163.68,283.09 Z" fill="#787878"/>
<path d="M207.31,227.06 A400.2,400.2 0 0 1 279.11,166.28 L290.54,183.54 A379.5,379.5 0 0 0 222.45,241.18 Z" fill="#E6875A" stroke="#808080" stroke-width="1"/>
<path d="M202.54,223.39 A406.2,406.2 0 0 1 276.28,160.96 L279.58,165.97 A400.2,400.2 0 0 0 206.93,227.47 Z" fill="#787878"/>
<path d="M288.52,160.24 A400.2,400.2 0 0 1 328.34,138.49 L337.22,157.18 A379.5,379.5 0 0 0 299.46,177.82 Z" fill="#878787" stroke="#808080" stroke-width="1"/>
<path d="M284.87,155.45 A406.2,406.2 0 0 1 326.28,132.82 L328.85,138.25 A400.2,400.2 0 0 0 288.04,160.54 Z" fill="#787878"/>
<path d="M337.22,134.4 A400.2,400.2 0 0 1 348.14,129.73 L356,148.88 A379.5,379.5 0 0 0 345.64,153.31 Z" fill="#FC9D8B" stroke="#808080" stroke-width="1"/>
<path d="M334.27,129.15 A406.2,406.2 0 0 1 346.39,123.96 L348.66,129.52 A400.2,400.2 0 0 0 336.71,134.63 Z" fill="#787878"/>
<path d="M357.23,126.13 A400.2,400.2 0 0 1 364.44,123.46 L371.45,142.94 A379.5,379.5 0 0 0 364.62,145.47 Z" fill="#9ECAE1" stroke="#808080" stroke-width="1"/>
<path d="M354.56,120.73 A406.2,406.2 0 0 1 362.94,117.62 L364.96,123.27 A400.2,400.2 0 0 0 356.71,126.33 Z" fill="#787878"/>
<path d="M373.68,120.26 A400.2,400.2 0 0 1 389.02,115.5 L394.76,135.38 A379.5,379.5 0 0 0 380.21,139.9 Z" fill="#FFF68F" stroke="#808080" stroke-width="1"/>
<path d="M371.25,114.75 A406.2,406.2 0 0 1 387.9,109.57 L389.56,115.34 A400.2,400.2 0 0 0 373.15,120.44 Z" fill="#787878"/>
<path d="M399.12,112.72 A400.2,400.2 0 0 1 427.76,106.37 L431.49,126.73 A379.5,379.5 0 0 0 404.34,132.75 Z" fill="#A1D99B" stroke="#808080" stroke-width="1"/>
<path d="M397.06,107.06 A406.2,406.2 0 0 1 427.23,100.37 L428.31,106.27 A400.2,400.2 0 0 0 398.58,112.86 Z" fill="#787878"/>
<path d="M437.05,104.78 A400.2,400.2 0 0 1 474.52,100.61 L475.84,121.27 A379.5,379.5 0 0 0 440.31,125.22 Z" fill="#BCBDDC" stroke="#808080" stroke-width="1"/>
<path d="M435.55,98.95 A406.2,406.2 0 0 1 474.71,94.59 L475.08,100.58 A400.2,400.2 0 0 0 436.5,104.87 Z" fill="#787878"/>
<path d="M483.94,100.12 A400.2,400.2 0 0 1 489.52,99.94 L490.07,120.63 A379.5,379.5 0 0 0 484.77,120.81 Z" fill="#FDAE6B" stroke="#808080" stroke-width="1"/>
<path d="M483.13,94.15 A406.2,406.2 0 0 1 489.93,93.92 L490.08,99.92 A400.2,400.2 0 0 0 483.38,100.15 Z" fill="#787878"/>
<path d="M504.21,97.82 L504.35,84.42 M510.04,97.93 L510.37,84.53 M515.86,98.11 L516.39,84.72 M521.68,98.38 L522.4,85 M527.5,98.74 L528.41,85.37 M533.31,99.18 L534.42,85.83 M539.11,99.71 L540.41,86.37 M544.9,100.31 L546.4,87 M550.69,101.01 L552.38,87.71 M556.46,101.78 L558.34,88.52 M562.22,102.64 L564.3,89.4 M567.97,103.59 L570.24,90.38 M573.71,104.61 L576.16,91.44 M593.21,108.75 L596.31,95.71 M598.87,110.14 L602.16,97.15 M604.5,111.61 L607.99,98.67 M610.12,113.17 L613.79,100.28 M615.71,114.8 L619.57,101.97 M621.28,116.52 L625.32,103.74 M626.82,118.32 L631.05,105.6 M632.34,120.19 L636.75,107.54 M637.82,122.15 L642.42,109.56 M643.28,124.19 L648.06,111.67 M648.71,126.3 L653.67,113.85 M654.11,128.5 L659.24,116.12 M659.48,130.77 L664.79,118.47 M676.94,138.81 L682.84,126.78 M682.16,141.41 L688.23,129.47 M687.33,144.09 L693.57,132.23 M692.47,146.84 L698.88,135.08 M697.56,149.67 L704.15,137.99 M702.62,152.57 L709.37,140.99 M707.63,155.54 L714.55,144.06 M722.57,165 L729.99,153.84 M738.11,175.86 L746.04,165.06 M742.78,179.34 L750.87,168.66 M757.45,191 L766.03,180.7 M761.9,194.76 L770.63,184.59 M777.87,209.22 L787.13,199.53 M782.06,213.28 L791.45,203.73 M786.18,217.39 L795.71,207.98 M790.24,221.57 L799.91,212.29 M794.25,225.8 L804.05,216.67 M798.19,230.09 L808.12,221.1 M802.07,234.44 L812.13,225.59 M805.88,238.85 L816.07,230.14 M819.51,255.71 L830.16,247.57 M823.02,260.37 L833.78,252.38 M826.46,265.07 L837.33,257.24 M829.82,269.83 L840.81,262.16 M833.12,274.63 L844.22,267.12 M843.12,290.15 L854.55,283.16 M846.12,295.14 L857.65,288.32 M849.05,300.18 L860.68,293.52 M851.91,305.26 L863.63,298.77 M854.69,310.37 L866.51,304.06 M857.4,315.53 L869.31,309.39 M860.04,320.73 L872.03,314.75 M862.6,325.96 L874.68,320.16 M865.08,331.23 L877.24,325.61 M867.49,336.54 L879.73,331.09 M869.81,341.88 L882.14,336.61 M876.61,358.82 L889.15,354.11 M878.61,364.29 L891.23,359.77 M880.54,369.79 L893.22,365.45 M882.38,375.31 L895.12,371.16 M884.15,380.87 L896.95,376.9 M885.84,386.44 L898.69,382.66 M890.84,405.08 L903.86,401.92 M892.17,410.76 L905.24,407.78 M893.43,416.45 L906.53,413.66 M894.59,422.15 L907.74,419.56 M895.68,427.88 L908.86,425.48 M896.68,433.62 L909.9,431.41 M897.6,439.37 L910.85,437.35 M900.07,458.66 L913.4,457.28 M900.63,464.46 L913.97,463.27 M901.1,470.26 L914.46,469.27 M901.49,476.08 L914.86,475.28 M901.79,481.9 L915.18,481.29 M902.01,487.72 L915.41,487.31 M902.15,493.54 L915.55,493.33 M901.86,516.49 L915.25,517.04 M901.58,522.31 L914.96,523.05 M901.22,528.13 L914.58,529.06 M900.77,533.94 L914.12,535.07 M900.23,539.74 L913.57,541.06 M899.61,545.53 L912.93,547.05 M898.91,551.31 L912.2,553.02 M898.13,557.09 L911.39,558.99 M897.26,562.85 L910.49,564.94 M896.31,568.6 L909.51,570.88 M895.27,574.33 L908.44,576.81 M894.15,580.05 L907.29,582.72 M892.95,585.75 L906.04,588.61 M891.67,591.43 L904.72,594.48 M886.62,610.86 L899.5,614.55 M884.97,616.45 L897.8,620.33 M883.25,622.01 L896.01,626.08 M881.44,627.55 L894.15,631.8 M879.55,633.07 L892.2,637.5 M877.58,638.55 L890.16,643.17 M875.54,644 L888.05,648.8 M873.41,649.43 L885.85,654.41 M871.21,654.82 L883.57,659.98 M863.02,673.15 L875.11,678.92 M860.47,678.39 L872.48,684.34 M857.85,683.6 L869.77,689.71 M855.15,688.76 L866.99,695.05 M852.38,693.88 L864.12,700.34 M849.54,698.97 L861.18,705.6 M846.62,704.01 L858.17,710.81 M843.63,709.01 L855.08,715.97 M840.56,713.97 L851.91,721.09 M837.43,718.88 L848.67,726.17 M834.22,723.74 L845.36,731.2 M830.95,728.56 L841.97,736.17 M827.6,733.33 L838.51,741.1 M824.19,738.05 L834.99,745.98 M820.7,742.72 L831.39,750.81 M809,757.45 L819.3,766.03 M805.24,761.9 L815.41,770.63 M801.42,766.3 L811.46,775.17 M797.53,770.63 L807.44,779.65 M793.58,774.92 L803.36,784.07 M789.56,779.14 L799.21,788.44 M785.49,783.3 L795,792.74 M781.35,787.41 L790.73,796.99 M777.16,791.46 L786.4,801.17 M772.91,795.44 L782,805.28 M768.6,799.36 L777.55,809.34 M764.24,803.22 L773.04,813.32 M759.82,807.02 L768.47,817.25 M755.34,810.75 L763.85,821.1 M750.81,814.42 L759.17,824.89 M746.23,818.02 L754.44,828.61 M741.6,821.55 L749.65,832.26 M736.92,825.01 L744.81,835.84 M721.11,835.97 L728.48,847.16 M716.22,839.14 L723.42,850.44 M711.28,842.23 L718.32,853.64 M706.31,845.26 L713.18,856.76 M701.28,848.21 L707.99,859.81 M696.22,851.09 L702.75,862.79 M691.11,853.89 L697.48,865.69 M685.96,856.63 L692.16,868.51 M680.78,859.28 L686.8,871.25 M675.56,861.86 L681.4,873.92 M670.3,864.37 L675.97,876.51 M665,866.8 L670.5,879.02 M659.67,869.15 L664.99,881.45 M654.3,871.42 L659.45,883.8 M648.91,873.62 L653.87,886.07 M643.48,875.74 L648.26,888.26 M638.02,877.78 L642.62,890.36 M632.54,879.74 L636.95,892.39 M627.02,881.62 L631.25,894.33 M621.48,883.42 L625.53,896.19 M615.91,885.14 L619.77,897.97 M610.32,886.77 L614,899.66 M604.71,888.33 L608.2,901.27 M599.07,889.81 L602.37,902.79 M593.41,891.2 L596.53,904.24 M576.74,894.81 L579.3,907.96 M571.02,895.88 L573.38,909.07 M565.27,896.87 L567.45,910.09 M559.52,897.77 L561.5,911.02 M553.75,898.59 L555.54,911.87 M547.97,899.33 L549.57,912.63 M542.18,899.98 L543.59,913.31 M536.38,900.55 L537.59,913.9 M530.58,901.04 L531.6,914.4 M524.76,901.44 L525.59,914.81 M518.95,901.75 L519.58,915.14 M513.12,901.99 L513.56,915.38 M507.3,902.13 L507.54,915.53 M501.47,902.2 L501.52,915.6 M495.65,902.18 L495.5,915.58 M489.82,902.07 L489.48,915.47 M484,901.88 L483.47,915.27 M478.18,901.61 L477.45,914.99 M472.36,901.25 L471.44,914.62 M466.55,900.81 L465.44,914.16 M460.75,900.28 L459.44,913.62 M442.63,898.09 L440.72,911.35 M436.87,897.22 L434.77,910.45 M431.13,896.26 L428.83,909.46 M425.39,895.22 L422.91,908.39 M419.68,894.1 L417,907.23 M399.3,889.39 L395.94,902.36 M393.67,887.89 L390.12,900.81 M388.06,886.31 L384.33,899.18 M382.48,884.65 L378.56,897.46 M376.92,882.9 L372.81,895.66 M357.18,875.99 L352.42,888.51 M351.74,873.88 L346.81,886.33 M346.34,871.69 L341.22,884.08 M340.98,869.43 L335.68,881.74 M321.17,860.26 L315.21,872.26 M315.97,857.63 L309.84,869.54 M310.81,854.92 L304.5,866.75 M305.69,852.15 L299.21,863.88 M300.6,849.29 L293.96,860.93 M295.57,846.37 L288.75,857.91 M290.57,843.37 L283.59,854.81 M285.62,840.3 L278.48,851.64 M280.71,837.16 L273.4,848.39 M275.85,833.95 L268.38,845.07 M271.04,830.67 L263.41,841.68 M266.27,827.31 L258.48,838.22 M261.55,823.89 L253.61,834.69 M256.89,820.41 L248.79,831.08 M252.27,816.85 L244.02,827.41 M247.71,813.23 L239.3,823.67 M233.76,801.46 L224.89,811.51 M229.42,797.57 L220.4,807.49 M225.14,793.62 L215.98,803.41 M220.91,789.61 L211.61,799.26 M216.75,785.54 L207.31,795.05 M212.64,781.4 L203.07,790.78 M208.59,777.21 L198.88,786.45 M204.61,772.96 L194.77,782.06 M200.68,768.65 L190.71,777.61 M196.82,764.29 L186.72,773.1 M193.03,759.87 L182.8,768.53 M189.3,755.4 L178.94,763.91 M185.63,750.87 L175.15,759.23 M182.03,746.29 L171.43,754.49 M178.49,741.66 L167.78,749.71 M175.03,736.97 L164.2,744.87 M171.63,732.24 L160.69,739.98 M168.3,727.46 L157.25,735.04 M165.04,722.63 L153.88,730.05 M161.85,717.76 L150.58,725.01 M158.73,712.84 L147.36,719.93 M155.68,707.87 L144.21,714.8 M152.71,702.86 L141.14,709.62 M149.8,697.81 L138.14,704.4 M146.98,692.71 L135.21,699.14 M144.22,687.58 L132.37,693.83 M136.38,671.88 L124.26,677.61 M133.93,666.6 L121.73,672.15 M131.55,661.28 L119.28,666.65 M129.25,655.92 L116.9,661.12 M127.03,650.54 L114.61,655.55 M124.89,645.12 L112.4,649.95 M122.83,639.67 L110.26,644.32 M116.52,621.28 L103.74,625.32 M114.8,615.71 L101.97,619.57 M113.17,610.12 L100.28,613.79 M111.61,604.5 L98.67,607.99 M110.14,598.87 L97.15,602.16 M108.75,593.21 L95.71,596.31 M107.44,587.53 L94.36,590.45 M106.21,581.84 L93.09,584.56 M105.07,576.12 L91.91,578.66 M104.01,570.39 L90.82,572.74 M103.03,564.65 L89.8,566.8 M102.14,558.89 L88.88,560.86 M101.32,553.12 L88.04,554.89 M100.6,547.34 L87.29,548.92 M99.95,541.55 L86.62,542.94 M99.39,535.75 L86.05,536.94 M98.92,529.95 L85.55,530.94 M98.52,524.13 L85.15,524.94 M98.22,518.32 L84.83,518.93 M97.99,512.49 L84.6,512.91 M97.86,506.67 L84.46,506.89 M97.8,500.84 L84.4,500.87 M97.83,495.02 L84.43,494.85 M97.95,489.19 L84.55,488.83 M98.14,483.37 L84.76,482.81 M98.43,477.55 L85.05,476.8 M98.79,471.73 L85.43,470.79 M99.25,465.93 L85.89,464.79 M101.15,448.2 L87.86,446.47 M101.94,442.43 L88.68,440.51 M102.82,436.67 L89.59,434.56 M103.78,430.92 L90.58,428.62 M104.82,425.19 L91.65,422.69 M105.94,419.47 L92.82,416.79 M107.15,413.77 L94.06,410.9 M108.44,408.09 L95.4,405.03 M109.82,402.43 L96.82,399.18 M111.27,396.78 L98.32,393.35 M112.81,391.16 L99.91,387.54 M117.92,374.38 L105.19,370.19 M119.78,368.86 L107.11,364.49 M121.72,363.36 L109.12,358.81 M123.74,357.9 L111.2,353.16 M125.84,352.46 L113.37,347.55 M128.01,347.06 L115.62,341.96 M135.19,330.66 L123.03,325.02 M137.68,325.39 L125.61,319.58 M140.25,320.16 L128.26,314.17 M142.89,314.97 L130.99,308.81 M145.61,309.82 L133.8,303.48 M154.89,293.45 L143.39,286.57 M164.61,278.01 L153.44,270.61 M167.86,273.18 L156.8,265.62 M171.18,268.39 L160.23,260.67 M174.57,263.65 L163.73,255.78 M178.03,258.96 L167.3,250.93 M181.56,254.32 L170.95,246.14 M185.15,249.73 L174.66,241.4 M188.81,245.2 L178.44,236.71 M192.53,240.72 L182.29,232.08 M196.32,236.29 L186.2,227.51 M208.74,222.64 L199.03,213.39 M212.79,218.44 L203.22,209.06 M216.9,214.31 L207.46,204.8 M221.06,210.24 L211.77,200.59 M225.29,206.23 L216.14,196.45 M229.57,202.28 L220.56,192.37 M233.92,198.4 L225.05,188.35 M238.31,194.58 L229.59,184.4 M242.76,190.82 L234.19,180.52 M247.27,187.12 L238.85,176.7 M251.83,183.49 L243.56,172.95 M256.44,179.93 L248.32,169.27 M261.1,176.44 L253.14,165.66 M265.81,173.01 L258.01,162.12 M270.57,169.65 L262.93,158.65 M275.38,166.36 L267.9,155.25 M291.05,156.34 L284.09,144.89 M296.05,153.35 L289.25,141.8 M301.09,150.43 L294.47,138.78 M306.18,147.58 L299.72,135.84 M311.3,144.81 L305.02,132.98 M316.47,142.12 L310.35,130.19 M321.67,139.5 L315.73,127.48 M340.27,130.88 L334.95,118.58 M360.46,122.78 L355.81,110.21 M377.05,117.05 L372.95,104.3 M382.61,115.31 L378.7,102.5 M402.7,109.75 L399.46,96.75 M408.36,108.38 L405.31,95.33 M414.04,107.09 L411.18,94 M419.75,105.89 L417.07,92.76 M440.9,102.17 L438.93,88.91 M446.67,101.35 L444.89,88.07 M452.45,100.62 L450.86,87.31 M458.24,99.97 L456.85,86.65 M464.04,99.41 L462.84,86.06 M469.84,98.93 L468.84,85.57" stroke="#000" stroke-width="1.5" fill="none"/>
<g font-size="18" fill="#000" opacity="0.995" stroke="#fff" stroke-width="0.15"><text transform="translate(504.4,80.02) rotate(-89.4)" dy="6.4">100</text><text transform="translate(510.48,80.13) rotate(-88.57)" dy="6.4">200</text><text transform="translate(516.56,80.33) rotate(-87.74)" dy="6.4">300</text><text transform="translate(522.64,80.61) rotate(-86.91)" dy="6.4">400</text><text transform="translate(528.71,80.98) rotate(-86.08)" dy="6.4">500</text><text transform="translate(534.78,81.44) rotate(-85.25)" dy="6.4">600</text><text transform="translate(540.84,81.99) rotate(-84.42)" dy="6.4">700</text><text transform="translate(546.89,82.63) rotate(-83.59)" dy="6.4">800</text><text transform="translate(552.93,83.35) rotate(-82.76)" dy="6.4">900</text><text transform="translate(558.96,84.16) rotate(-81.93)" dy="6.4">1000</text><text transform="translate(564.98,85.06) rotate(-81.1)" dy="6.4">1100</text><text transform="translate(570.98,86.04) rotate(-80.27)" dy="6.4">1200</text><text transform="translate(576.97,87.11) rotate(-79.44)" dy="6.4">1300</text><text transform="translate(597.33,91.43) rotate(-76.6)" dy="6.4">100</text><text transform="translate(603.24,92.89) rotate(-75.77)" dy="6.4">200</text><text transform="translate(609.13,94.43) rotate(-74.94)" dy="6.4">300</text><text transform="translate(614.99,96.05) rotate(-74.11)" dy="6.4">400</text><text transform="translate(620.83,97.76) rotate(-73.28)" dy="6.4">500</text><text transform="translate(626.65,99.55) rotate(-72.45)" dy="6.4">600</text><text transform="translate(632.43,101.43) rotate(-71.62)" dy="6.4">700</text><text transform="translate(638.19,103.39) rotate(-70.79)" dy="6.4">800</text><text transform="translate(643.92,105.43) rotate(-69.96)" dy="6.4">900</text><text transform="translate(649.62,107.56) rotate(-69.13)" dy="6.4">1000</text><text transform="translate(655.29,109.76) rotate(-68.3)" dy="6.4">1100</text><text transform="translate(660.93,112.05) rotate(-67.47)" dy="6.4">1200</text><text transform="translate(666.53,114.43) rotate(-66.64)" dy="6.4">1300</text><text transform="translate(684.77,122.83) rotate(-63.9)" dy="6.4">100</text><text transform="translate(690.22,125.54) rotate(-63.07)" dy="6.4">200</text><text transform="translate(695.62,128.34) rotate(-62.24)" dy="6.4">300</text><text transform="translate(700.99,131.21) rotate(-61.41)" dy="6.4">400</text><text transform="translate(706.31,134.16) rotate(-60.58)" dy="6.4">500</text><text transform="translate(711.59,137.19) rotate(-59.75)" dy="6.4">600</text><text transform="translate(716.82,140.29) rotate(-58.92)" dy="6.4">700</text><text transform="translate(732.42,150.17) rotate(-56.4)" dy="6.4">100</text><text transform="translate(748.65,161.51) rotate(-53.7)" dy="6.4">100</text><text transform="translate(753.52,165.15) rotate(-52.87)" dy="6.4">200</text><text transform="translate(768.85,177.32) rotate(-50.2)" dy="6.4">100</text><text transform="translate(773.49,181.25) rotate(-49.37)" dy="6.4">200</text><text transform="translate(790.17,196.35) rotate(-46.3)" dy="6.4">100</text><text transform="translate(794.54,200.59) rotate(-45.47)" dy="6.4">200</text><text transform="translate(798.84,204.89) rotate(-44.64)" dy="6.4">300</text><text transform="translate(803.09,209.25) rotate(-43.81)" dy="6.4">400</text><text transform="translate(807.27,213.67) rotate(-42.98)" dy="6.4">500</text><text transform="translate(811.38,218.15) rotate(-42.15)" dy="6.4">600</text><text transform="translate(815.43,222.69) rotate(-41.32)" dy="6.4">700</text><text transform="translate(819.42,227.29) rotate(-40.49)" dy="6.4">800</text><text transform="translate(833.65,244.9) rotate(-37.4)" dy="6.4">100</text><text transform="translate(837.31,249.76) rotate(-36.57)" dy="6.4">200</text><text transform="translate(840.9,254.67) rotate(-35.74)" dy="6.4">300</text><text transform="translate(844.42,259.64) rotate(-34.91)" dy="6.4">400</text><text transform="translate(847.87,264.65) rotate(-34.08)" dy="6.4">500</text><text transform="translate(858.3,280.86) rotate(-31.45)" dy="6.4">100</text><text transform="translate(861.44,286.08) rotate(-30.62)" dy="6.4">200</text><text transform="translate(864.5,291.33) rotate(-29.79)" dy="6.4">300</text><text transform="translate(867.48,296.64) rotate(-28.96)" dy="6.4">400</text><text transform="translate(870.39,301.98) rotate(-28.13)" dy="6.4">500</text><text transform="translate(873.22,307.37) rotate(-27.3)" dy="6.4">600</text><text transform="translate(875.97,312.79) rotate(-26.47)" dy="6.4">700</text><text transform="translate(878.64,318.26) rotate(-25.64)" dy="6.4">800</text><text transform="translate(881.24,323.76) rotate(-24.81)" dy="6.4">900</text><text transform="translate(883.75,329.3) rotate(-23.98)" dy="6.4">1000</text><text transform="translate(886.18,334.88) rotate(-23.15)" dy="6.4">1100</text><text transform="translate(893.27,352.57) rotate(-20.55)" dy="6.4">100</text><text transform="translate(895.37,358.28) rotate(-19.72)" dy="6.4">200</text><text transform="translate(897.38,364.02) rotate(-18.89)" dy="6.4">300</text><text transform="translate(899.31,369.79) rotate(-18.06)" dy="6.4">400</text><text transform="translate(901.15,375.59) rotate(-17.23)" dy="6.4">500</text><text transform="translate(902.91,381.42) rotate(-16.4)" dy="6.4">600</text><text transform="translate(908.14,400.88) rotate(-13.65)" dy="6.4">100</text><text transform="translate(909.53,406.81) rotate(-12.82)" dy="6.4">200</text><text transform="translate(910.84,412.75) rotate(-11.99)" dy="6.4">300</text><text transform="translate(912.06,418.71) rotate(-11.16)" dy="6.4">400</text><text transform="translate(913.19,424.69) rotate(-10.33)" dy="6.4">500</text><text transform="translate(914.24,430.68) rotate(-9.5)" dy="6.4">600</text><text transform="translate(915.2,436.69) rotate(-8.67)" dy="6.4">700</text><text transform="translate(917.78,456.83) rotate(-5.9)" dy="6.4">100</text><text transform="translate(918.36,462.88) rotate(-5.07)" dy="6.4">200</text><text transform="translate(918.85,468.95) rotate(-4.24)" dy="6.4">300</text><text transform="translate(919.26,475.02) rotate(-3.41)" dy="6.4">400</text><text transform="translate(919.57,481.09) rotate(-2.58)" dy="6.4">500</text><text transform="translate(919.8,487.17) rotate(-1.75)" dy="6.4">600</text><text transform="translate(919.95,493.26) rotate(-0.92)" dy="6.4">700</text><text transform="translate(919.65,517.22) rotate(2.35)" dy="6.4">100</text><text transform="translate(919.35,523.3) rotate(3.18)" dy="6.4">200</text><text transform="translate(918.97,529.37) rotate(4.01)" dy="6.4">300</text><text transform="translate(918.5,535.44) rotate(4.84)" dy="6.4">400</text><text transform="translate(917.95,541.5) rotate(5.67)" dy="6.4">500</text><text transform="translate(917.3,547.55) rotate(6.5)" dy="6.4">600</text><text transform="translate(916.57,553.59) rotate(7.33)" dy="6.4">700</text><text transform="translate(915.75,559.61) rotate(8.16)" dy="6.4">800</text><text transform="translate(914.84,565.63) rotate(8.99)" dy="6.4">900</text><text transform="translate(913.85,571.63) rotate(9.82)" dy="6.4">1000</text><text transform="translate(912.77,577.62) rotate(10.65)" dy="6.4">1100</text><text transform="translate(911.6,583.59) rotate(11.48)" dy="6.4">1200</text><text transform="translate(910.34,589.54) rotate(12.31)" dy="6.4">1300</text><text transform="translate(909,595.48) rotate(13.14)" dy="6.4">1400</text><text transform="translate(903.73,615.77) rotate(16)" dy="6.4">100</text><text transform="translate(902.01,621.6) rotate(16.83)" dy="6.4">200</text><text transform="translate(900.21,627.41) rotate(17.66)" dy="6.4">300</text><text transform="translate(898.32,633.2) rotate(18.49)" dy="6.4">400</text><text transform="translate(896.35,638.95) rotate(19.32)" dy="6.4">500</text><text transform="translate(894.29,644.68) rotate(20.15)" dy="6.4">600</text><text transform="translate(892.16,650.38) rotate(20.98)" dy="6.4">700</text><text transform="translate(889.94,656.04) rotate(21.81)" dy="6.4">800</text><text transform="translate(887.64,661.67) rotate(22.64)" dy="6.4">900</text><text transform="translate(879.09,680.81) rotate(25.5)" dy="6.4">100</text><text transform="translate(876.43,686.29) rotate(26.33)" dy="6.4">200</text><text transform="translate(873.69,691.72) rotate(27.16)" dy="6.4">300</text><text transform="translate(870.87,697.11) rotate(27.99)" dy="6.4">400</text><text transform="translate(867.98,702.47) rotate(28.82)" dy="6.4">500</text><text transform="translate(865.01,707.77) rotate(29.65)" dy="6.4">600</text><text transform="translate(861.96,713.04) rotate(30.48)" dy="6.4">700</text><text transform="translate(858.83,718.26) rotate(31.31)" dy="6.4">800</text><text transform="translate(855.64,723.44) rotate(32.14)" dy="6.4">900</text><text transform="translate(852.36,728.56) rotate(32.97)" dy="6.4">1000</text><text transform="translate(849.01,733.64) rotate(33.8)" dy="6.4">1100</text><text transform="translate(845.59,738.68) rotate(34.63)" dy="6.4">1200</text><text transform="translate(842.1,743.66) rotate(35.46)" dy="6.4">1300</text><text transform="translate(838.53,748.59) rotate(36.29)" dy="6.4">1400</text><text transform="translate(834.9,753.46) rotate(37.12)" dy="6.4">1500</text><text transform="translate(822.68,768.85) rotate(39.8)" dy="6.4">100</text><text transform="translate(818.75,773.49) rotate(40.63)" dy="6.4">200</text><text transform="translate(814.76,778.08) rotate(41.46)" dy="6.4">300</text><text transform="translate(810.69,782.61) rotate(42.29)" dy="6.4">400</text><text transform="translate(806.57,787.08) rotate(43.12)" dy="6.4">500</text><text transform="translate(802.38,791.49) rotate(43.95)" dy="6.4">600</text><text transform="translate(798.12,795.84) rotate(44.78)" dy="6.4">700</text><text transform="translate(793.81,800.13) rotate(45.61)" dy="6.4">800</text><text transform="translate(789.43,804.35) rotate(46.44)" dy="6.4">900</text><text transform="translate(784.99,808.51) rotate(47.27)" dy="6.4">1000</text><text transform="translate(780.49,812.61) rotate(48.1)" dy="6.4">1100</text><text transform="translate(775.93,816.64) rotate(48.93)" dy="6.4">1200</text><text transform="translate(771.32,820.6) rotate(49.76)" dy="6.4">1300</text><text transform="translate(766.64,824.5) rotate(50.59)" dy="6.4">1400</text><text transform="translate(761.91,828.33) rotate(51.42)" dy="6.4">1500</text><text transform="translate(757.13,832.09) rotate(52.25)" dy="6.4">1600</text><text transform="translate(752.29,835.78) rotate(53.08)" dy="6.4">1700</text><text transform="translate(747.4,839.4) rotate(53.91)" dy="6.4">1800</text><text transform="translate(730.9,850.84) rotate(56.65)" dy="6.4">100</text><text transform="translate(725.79,854.15) rotate(57.48)" dy="6.4">200</text><text transform="translate(720.64,857.38) rotate(58.31)" dy="6.4">300</text><text transform="translate(715.44,860.54) rotate(59.14)" dy="6.4">400</text><text transform="translate(710.19,863.62) rotate(59.97)" dy="6.4">500</text><text transform="translate(704.9,866.63) rotate(60.8)" dy="6.4">600</text><text transform="translate(699.57,869.56) rotate(61.63)" dy="6.4">700</text><text transform="translate(694.19,872.41) rotate(62.46)" dy="6.4">800</text><text transform="translate(688.78,875.18) rotate(63.29)" dy="6.4">900</text><text transform="translate(683.32,877.88) rotate(64.12)" dy="6.4">1000</text><text transform="translate(677.83,880.49) rotate(64.95)" dy="6.4">1100</text><text transform="translate(672.3,883.03) rotate(65.78)" dy="6.4">1200</text><text transform="translate(666.73,885.49) rotate(66.61)" dy="6.4">1300</text><text transform="translate(661.13,887.86) rotate(67.44)" dy="6.4">1400</text><text transform="translate(655.5,890.15) rotate(68.27)" dy="6.4">1500</text><text transform="translate(649.83,892.37) rotate(69.1)" dy="6.4">1600</text><text transform="translate(644.13,894.5) rotate(69.93)" dy="6.4">1700</text><text transform="translate(638.4,896.54) rotate(70.76)" dy="6.4">1800</text><text transform="translate(632.64,898.5) rotate(71.59)" dy="6.4">1900</text><text transform="translate(626.86,900.38) rotate(72.42)" dy="6.4">2000</text><text transform="translate(621.04,902.18) rotate(73.25)" dy="6.4">2100</text><text transform="translate(615.2,903.89) rotate(74.08)" dy="6.4">2200</text><text transform="translate(609.34,905.52) rotate(74.91)" dy="6.4">2300</text><text transform="translate(603.46,907.06) rotate(75.74)" dy="6.4">2400</text><text transform="translate(597.55,908.51) rotate(76.57)" dy="6.4">2500</text><text transform="translate(580.14,912.28) rotate(79)" dy="6.4">100</text><text transform="translate(574.16,913.4) rotate(79.83)" dy="6.4">200</text><text transform="translate(568.16,914.43) rotate(80.66)" dy="6.4">300</text><text transform="translate(562.15,915.38) rotate(81.49)" dy="6.4">400</text><text transform="translate(556.13,916.23) rotate(82.32)" dy="6.4">500</text><text transform="translate(550.09,917) rotate(83.15)" dy="6.4">600</text><text transform="translate(544.05,917.68) rotate(83.98)" dy="6.4">700</text><text transform="translate(537.99,918.28) rotate(84.81)" dy="6.4">800</text><text transform="translate(531.93,918.78) rotate(85.64)" dy="6.4">900</text><text transform="translate(525.86,919.2) rotate(86.47)" dy="6.4">1000</text><text transform="translate(519.78,919.53) rotate(87.3)" dy="6.4">1100</text><text transform="translate(513.71,919.78) rotate(88.13)" dy="6.4">1200</text><text transform="translate(507.62,919.93) rotate(88.96)" dy="6.4">1300</text><text transform="translate(501.54,920) rotate(89.79)" dy="6.4">1400</text><text transform="translate(495.46,919.98) rotate(270.62)" dy="6.4" text-anchor="end">1500</text><text transform="translate(489.37,919.87) rotate(271.45)" dy="6.4" text-anchor="end">1600</text><text transform="translate(483.29,919.67) rotate(272.28)" dy="6.4" text-anchor="end">1700</text><text transform="translate(477.21,919.38) rotate(273.11)" dy="6.4" text-anchor="end">1800</text><text transform="translate(471.14,919.01) rotate(273.94)" dy="6.4" text-anchor="end">1900</text><text transform="translate(465.07,918.55) rotate(274.77)" dy="6.4" text-anchor="end">2000</text><text transform="translate(459.02,918) rotate(275.6)" dy="6.4" text-anchor="end">2100</text><text transform="translate(440.1,915.71) rotate(278.2)" dy="6.4" text-anchor="end">100</text><text transform="translate(434.08,914.79) rotate(279.03)" dy="6.4" text-anchor="end">200</text><text transform="translate(428.08,913.8) rotate(279.86)" dy="6.4" text-anchor="end">300</text><text transform="translate(422.09,912.71) rotate(280.69)" dy="6.4" text-anchor="end">400</text><text transform="translate(416.12,911.54) rotate(281.52)" dy="6.4" text-anchor="end">500</text><text transform="translate(394.84,906.62) rotate(284.5)" dy="6.4" text-anchor="end">100</text><text transform="translate(388.96,905.06) rotate(285.33)" dy="6.4" text-anchor="end">200</text><text transform="translate(383.11,903.41) rotate(286.16)" dy="6.4" text-anchor="end">300</text><text transform="translate(377.27,901.67) rotate(286.99)" dy="6.4" text-anchor="end">400</text><text transform="translate(371.47,899.85) rotate(287.82)" dy="6.4" text-anchor="end">500</text><text transform="translate(350.86,892.63) rotate(290.8)" dy="6.4" text-anchor="end">100</text><text transform="translate(345.18,890.43) rotate(291.63)" dy="6.4" text-anchor="end">200</text><text transform="translate(339.54,888.14) rotate(292.46)" dy="6.4" text-anchor="end">300</text><text transform="translate(333.94,885.78) rotate(293.29)" dy="6.4" text-anchor="end">400</text><text transform="translate(313.25,876.2) rotate(296.4)" dy="6.4" text-anchor="end">100</text><text transform="translate(307.82,873.45) rotate(297.23)" dy="6.4" text-anchor="end">200</text><text transform="translate(302.43,870.63) rotate(298.06)" dy="6.4" text-anchor="end">300</text><text transform="translate(297.09,867.73) rotate(298.89)" dy="6.4" text-anchor="end">400</text><text transform="translate(291.78,864.75) rotate(299.72)" dy="6.4" text-anchor="end">500</text><text transform="translate(286.52,861.7) rotate(300.55)" dy="6.4" text-anchor="end">600</text><text transform="translate(281.3,858.57) rotate(301.38)" dy="6.4" text-anchor="end">700</text><text transform="translate(276.13,855.36) rotate(302.21)" dy="6.4" text-anchor="end">800</text><text transform="translate(271.01,852.08) rotate(303.04)" dy="6.4" text-anchor="end">900</text><text transform="translate(265.93,848.73) rotate(303.87)" dy="6.4" text-anchor="end">1000</text><text transform="translate(260.9,845.3) rotate(304.7)" dy="6.4" text-anchor="end">1100</text><text transform="translate(255.93,841.8) rotate(305.53)" dy="6.4" text-anchor="end">1200</text><text transform="translate(251,838.23) rotate(306.36)" dy="6.4" text-anchor="end">1300</text><text transform="translate(246.13,834.59) rotate(307.19)" dy="6.4" text-anchor="end">1400</text><text transform="translate(241.31,830.87) rotate(308.02)" dy="6.4" text-anchor="end">1500</text><text transform="translate(236.54,827.09) rotate(308.85)" dy="6.4" text-anchor="end">1600</text><text transform="translate(221.97,814.8) rotate(311.45)" dy="6.4" text-anchor="end">100</text><text transform="translate(217.44,810.74) rotate(312.28)" dy="6.4" text-anchor="end">200</text><text transform="translate(212.97,806.62) rotate(313.11)" dy="6.4" text-anchor="end">300</text><text transform="translate(208.56,802.43) rotate(313.94)" dy="6.4" text-anchor="end">400</text><text transform="translate(204.21,798.17) rotate(314.77)" dy="6.4" text-anchor="end">500</text><text transform="translate(199.92,793.86) rotate(315.6)" dy="6.4" text-anchor="end">600</text><text transform="translate(195.7,789.48) rotate(316.43)" dy="6.4" text-anchor="end">700</text><text transform="translate(191.53,785.04) rotate(317.26)" dy="6.4" text-anchor="end">800</text><text transform="translate(187.44,780.54) rotate(318.09)" dy="6.4" text-anchor="end">900</text><text transform="translate(183.41,775.99) rotate(318.92)" dy="6.4" text-anchor="end">1000</text><text transform="translate(179.44,771.37) rotate(319.75)" dy="6.4" text-anchor="end">1100</text><text transform="translate(175.54,766.7) rotate(320.58)" dy="6.4" text-anchor="end">1200</text><text transform="translate(171.72,761.97) rotate(321.41)" dy="6.4" text-anchor="end">1300</text><text transform="translate(167.96,757.19) rotate(322.24)" dy="6.4" text-anchor="end">1400</text><text transform="translate(164.26,752.35) rotate(323.07)" dy="6.4" text-anchor="end">1500</text><text transform="translate(160.64,747.46) rotate(323.9)" dy="6.4" text-anchor="end">1600</text><text transform="translate(157.1,742.52) rotate(324.73)" dy="6.4" text-anchor="end">1700</text><text transform="translate(153.62,737.53) rotate(325.56)" dy="6.4" text-anchor="end">1800</text><text transform="translate(150.21,732.49) rotate(326.39)" dy="6.4" text-anchor="end">1900</text><text transform="translate(146.88,727.39) rotate(327.22)" dy="6.4" text-anchor="end">2000</text><text transform="translate(143.63,722.26) rotate(328.05)" dy="6.4" text-anchor="end">2100</text><text transform="translate(140.44,717.07) rotate(328.88)" dy="6.4" text-anchor="end">2200</text><text transform="translate(137.34,711.84) rotate(329.71)" dy="6.4" text-anchor="end">2300</text><text transform="translate(134.31,706.56) rotate(330.54)" dy="6.4" text-anchor="end">2400</text><text transform="translate(131.35,701.24) rotate(331.37)" dy="6.4" text-anchor="end">2500</text><text transform="translate(128.48,695.88) rotate(332.2)" dy="6.4" text-anchor="end">2600</text><text transform="translate(120.29,679.49) rotate(334.7)" dy="6.4" text-anchor="end">100</text><text transform="translate(117.73,673.97) rotate(335.53)" dy="6.4" text-anchor="end">200</text><text transform="translate(115.25,668.42) rotate(336.36)" dy="6.4" text-anchor="end">300</text><text transform="translate(112.85,662.82) rotate(337.19)" dy="6.4" text-anchor="end">400</text><text transform="translate(110.53,657.2) rotate(338.02)" dy="6.4" text-anchor="end">500</text><text transform="translate(108.29,651.54) rotate(338.85)" dy="6.4" text-anchor="end">600</text><text transform="translate(106.14,645.85) rotate(339.68)" dy="6.4" text-anchor="end">700</text><text transform="translate(99.55,626.65) rotate(342.45)" dy="6.4" text-anchor="end">100</text><text transform="translate(97.76,620.83) rotate(343.28)" dy="6.4" text-anchor="end">200</text><text transform="translate(96.05,614.99) rotate(344.11)" dy="6.4" text-anchor="end">300</text><text transform="translate(94.43,609.13) rotate(344.94)" dy="6.4" text-anchor="end">400</text><text transform="translate(92.89,603.24) rotate(345.77)" dy="6.4" text-anchor="end">500</text><text transform="translate(91.43,597.33) rotate(346.6)" dy="6.4" text-anchor="end">600</text><text transform="translate(90.07,591.41) rotate(347.43)" dy="6.4" text-anchor="end">700</text><text transform="translate(88.79,585.46) rotate(348.26)" dy="6.4" text-anchor="end">800</text><text transform="translate(87.59,579.49) rotate(349.09)" dy="6.4" text-anchor="end">900</text><text transform="translate(86.48,573.51) rotate(349.92)" dy="6.4" text-anchor="end">1000</text><text transform="translate(85.46,567.51) rotate(350.75)" dy="6.4" text-anchor="end">1100</text><text transform="translate(84.53,561.5) rotate(351.58)" dy="6.4" text-anchor="end">1200</text><text transform="translate(83.68,555.48) rotate(352.41)" dy="6.4" text-anchor="end">1300</text><text transform="translate(82.92,549.44) rotate(353.24)" dy="6.4" text-anchor="end">1400</text><text transform="translate(82.25,543.39) rotate(354.07)" dy="6.4" text-anchor="end">1500</text><text transform="translate(81.66,537.34) rotate(354.9)" dy="6.4" text-anchor="end">1600</text><text transform="translate(81.17,531.27) rotate(355.73)" dy="6.4" text-anchor="end">1700</text><text transform="translate(80.76,525.2) rotate(356.56)" dy="6.4" text-anchor="end">1800</text><text transform="translate(80.44,519.13) rotate(357.39)" dy="6.4" text-anchor="end">1900</text><text transform="translate(80.2,513.05) rotate(358.22)" dy="6.4" text-anchor="end">2000</text><text transform="translate(80.06,506.96) rotate(359.05)" dy="6.4" text-anchor="end">2100</text><text transform="translate(80,500.88) rotate(359.88)" dy="6.4" text-anchor="end">2200</text><text transform="translate(80.03,494.8) rotate(360.71)" dy="6.4" text-anchor="end">2300</text><text transform="translate(80.15,488.71) rotate(361.54)" dy="6.4" text-anchor="end">2400</text><text transform="translate(80.36,482.63) rotate(362.37)" dy="6.4" text-anchor="end">2500</text><text transform="translate(80.65,476.55) rotate(363.2)" dy="6.4" text-anchor="end">2600</text><text transform="translate(81.04,470.48) rotate(364.03)" dy="6.4" text-anchor="end">2700</text><text transform="translate(81.51,464.42) rotate(364.86)" dy="6.4" text-anchor="end">2800</text><text transform="translate(83.5,445.91) rotate(367.4)" dy="6.4" text-anchor="end">100</text><text transform="translate(84.33,439.88) rotate(368.23)" dy="6.4" text-anchor="end">200</text><text transform="translate(85.24,433.86) rotate(369.06)" dy="6.4" text-anchor="end">300</text><text transform="translate(86.24,427.86) rotate(369.89)" dy="6.4" text-anchor="end">400</text><text transform="translate(87.33,421.88) rotate(370.72)" dy="6.4" text-anchor="end">500</text><text transform="translate(88.5,415.91) rotate(371.55)" dy="6.4" text-anchor="end">600</text><text transform="translate(89.77,409.95) rotate(372.38)" dy="6.4" text-anchor="end">700</text><text transform="translate(91.11,404.02) rotate(373.21)" dy="6.4" text-anchor="end">800</text><text transform="translate(92.55,398.11) rotate(374.04)" dy="6.4" text-anchor="end">900</text><text transform="translate(94.07,392.22) rotate(374.87)" dy="6.4" text-anchor="end">1000</text><text transform="translate(95.67,386.35) rotate(375.7)" dy="6.4" text-anchor="end">1100</text><text transform="translate(101.01,368.82) rotate(378.2)" dy="6.4" text-anchor="end">100</text><text transform="translate(102.95,363.05) rotate(379.03)" dy="6.4" text-anchor="end">200</text><text transform="translate(104.98,357.32) rotate(379.86)" dy="6.4" text-anchor="end">300</text><text transform="translate(107.09,351.61) rotate(380.69)" dy="6.4" text-anchor="end">400</text><text transform="translate(109.28,345.93) rotate(381.52)" dy="6.4" text-anchor="end">500</text><text transform="translate(111.55,340.29) rotate(382.35)" dy="6.4" text-anchor="end">600</text><text transform="translate(119.04,323.16) rotate(384.9)" dy="6.4" text-anchor="end">100</text><text transform="translate(121.64,317.67) rotate(385.73)" dy="6.4" text-anchor="end">200</text><text transform="translate(124.32,312.2) rotate(386.56)" dy="6.4" text-anchor="end">300</text><text transform="translate(127.08,306.78) rotate(387.39)" dy="6.4" text-anchor="end">400</text><text transform="translate(129.92,301.4) rotate(388.22)" dy="6.4" text-anchor="end">500</text><text transform="translate(139.61,284.31) rotate(390.9)" dy="6.4" text-anchor="end">100</text><text transform="translate(149.77,268.19) rotate(393.5)" dy="6.4" text-anchor="end">100</text><text transform="translate(153.16,263.14) rotate(394.33)" dy="6.4" text-anchor="end">200</text><text transform="translate(156.63,258.14) rotate(395.16)" dy="6.4" text-anchor="end">300</text><text transform="translate(160.17,253.19) rotate(395.99)" dy="6.4" text-anchor="end">400</text><text transform="translate(163.78,248.29) rotate(396.82)" dy="6.4" text-anchor="end">500</text><text transform="translate(167.46,243.45) rotate(397.65)" dy="6.4" text-anchor="end">600</text><text transform="translate(171.21,238.66) rotate(398.48)" dy="6.4" text-anchor="end">700</text><text transform="translate(175.03,233.92) rotate(399.31)" dy="6.4" text-anchor="end">800</text><text transform="translate(178.92,229.24) rotate(400.14)" dy="6.4" text-anchor="end">900</text><text transform="translate(182.88,224.62) rotate(400.97)" dy="6.4" text-anchor="end">1000</text><text transform="translate(195.85,210.36) rotate(403.6)" dy="6.4" text-anchor="end">100</text><text transform="translate(200.08,205.98) rotate(404.43)" dy="6.4" text-anchor="end">200</text><text transform="translate(204.37,201.67) rotate(405.26)" dy="6.4" text-anchor="end">300</text><text transform="translate(208.72,197.42) rotate(406.09)" dy="6.4" text-anchor="end">400</text><text transform="translate(213.13,193.23) rotate(406.92)" dy="6.4" text-anchor="end">500</text><text transform="translate(217.61,189.11) rotate(407.75)" dy="6.4" text-anchor="end">600</text><text transform="translate(222.14,185.05) rotate(408.58)" dy="6.4" text-anchor="end">700</text><text transform="translate(226.73,181.06) rotate(409.41)" dy="6.4" text-anchor="end">800</text><text transform="translate(231.38,177.13) rotate(410.24)" dy="6.4" text-anchor="end">900</text><text transform="translate(236.08,173.28) rotate(411.07)" dy="6.4" text-anchor="end">1000</text><text transform="translate(240.84,169.49) rotate(411.9)" dy="6.4" text-anchor="end">1100</text><text transform="translate(245.66,165.77) rotate(412.73)" dy="6.4" text-anchor="end">1200</text><text transform="translate(250.53,162.12) rotate(413.56)" dy="6.4" text-anchor="end">1300</text><text transform="translate(255.45,158.54) rotate(414.39)" dy="6.4" text-anchor="end">1400</text><text transform="translate(260.42,155.03) rotate(415.22)" dy="6.4" text-anchor="end">1500</text><text transform="translate(265.44,151.6) rotate(416.05)" dy="6.4" text-anchor="end">1600</text><text transform="translate(281.8,141.13) rotate(418.7)" dy="6.4" text-anchor="end">100</text><text transform="translate(287.02,138) rotate(419.53)" dy="6.4" text-anchor="end">200</text><text transform="translate(292.29,134.96) rotate(420.36)" dy="6.4" text-anchor="end">300</text><text transform="translate(297.6,131.99) rotate(421.19)" dy="6.4" text-anchor="end">400</text><text transform="translate(302.95,129.09) rotate(422.02)" dy="6.4" text-anchor="end">500</text><text transform="translate(308.34,126.28) rotate(422.85)" dy="6.4" text-anchor="end">600</text><text transform="translate(313.78,123.54) rotate(423.68)" dy="6.4" text-anchor="end">700</text><text transform="translate(333.2,114.54) rotate(426.6)" dy="6.4" text-anchor="end">100</text><text transform="translate(354.29,106.09) rotate(429.7)" dy="6.4" text-anchor="end">100</text><text transform="translate(371.61,100.11) rotate(432.2)" dy="6.4" text-anchor="end">100</text><text transform="translate(377.41,98.29) rotate(433.03)" dy="6.4" text-anchor="end">200</text><text transform="translate(398.39,92.48) rotate(436)" dy="6.4" text-anchor="end">100</text><text transform="translate(404.31,91.05) rotate(436.83)" dy="6.4" text-anchor="end">200</text><text transform="translate(410.24,89.7) rotate(437.66)" dy="6.4" text-anchor="end">300</text><text transform="translate(416.19,88.45) rotate(438.49)" dy="6.4" text-anchor="end">400</text><text transform="translate(438.28,84.56) rotate(441.55)" dy="6.4" text-anchor="end">100</text><text transform="translate(444.31,83.71) rotate(442.38)" dy="6.4" text-anchor="end">200</text><text transform="translate(450.34,82.95) rotate(443.21)" dy="6.4" text-anchor="end">300</text><text transform="translate(456.39,82.27) rotate(444.04)" dy="6.4" text-anchor="end">400</text><text transform="translate(462.45,81.68) rotate(444.87)" dy="6.4" text-anchor="end">500</text><text transform="translate(468.51,81.18) rotate(445.7)" dy="6.4" text-anchor="end">600</text></g>
<defs><path id="p0" d="M347.41,66.68 A459.4,459.4 0 0 1 733.85,104.58"/><path id="p1" d="M446.4,43.74 A459.4,459.4 0 0 1 815.06,165.66"/><path id="p2" d="M529.05,41.52 A459.4,459.4 0 0 1 869.89,227.54"/><path id="p3" d="M567.9,45.65 A459.4,459.4 0 0 1 891.7,259.96"/><path id="p4" d="M593.16,50.15 A459.4,459.4 0 0 1 904.49,282.2"/><path id="p5" d="M622,57.09 A459.4,459.4 0 0 1 917.7,308.76"/><path id="p6" d="M670.42,73.38 A459.4,459.4 0 0 1 936.35,356.32"/><path id="p7" d="M723.95,98.88 A459.4,459.4 0 0 1 951.23,413.72"/><path id="p8" d="M780.14,135.9 A459.4,459.4 0 0 1 958.99,480.56"/><path id="p9" d="M832.82,183.33 A459.4,459.4 0 0 1 956.51,551.41"/><path id="p10" d="M871.07,229.16 A459.4,459.4 0 0 1 946,610.17"/><path id="p11" d="M905.06,283.26 A459.4,459.4 0 0 1 926.4,670.98"/><path id="p12" d="M892.09,751.47 A465.8,465.8 0 0 0 944.67,361.29"/><path id="p13" d="M833.37,825.32 A465.8,465.8 0 0 0 963.5,453.74"/><path id="p14" d="M758.78,887.3 A465.8,465.8 0 0 0 963.03,550.71"/><path id="p15" d="M644.52,942.81 A465.8,465.8 0 0 0 932.11,673.93"/><path id="p16" d="M487.6,965.64 A465.8,465.8 0 0 0 848.73,808.8"/><path id="p17" d="M323.06,930.89 A465.8,465.8 0 0 0 716.34,912.51"/><path id="p18" d="M232.66,881.44 A465.8,465.8 0 0 0 620.36,949.98"/><path id="p19" d="M192.57,849.94 A465.8,465.8 0 0 0 570.46,960.44"/><path id="p20" d="M157.95,816.19 A465.8,465.8 0 0 0 522.35,965.26"/><path id="p21" d="M106.82,749.76 A465.8,465.8 0 0 0 438.6,961.74"/><path id="p22" d="M46.65,606.96 A465.8,465.8 0 0 0 290.53,916.04"/><path id="p23" d="M34.54,482.12 A465.8,465.8 0 0 0 187.11,845.07"/><path id="p24" d="M58.4,351.81 A465.8,465.8 0 0 0 102.63,743.03"/><path id="p25" d="M53.43,607.83 A459.4,459.4 0 0 1 130.35,227.22"/><path id="p26" d="M42.21,538.44 A459.4,459.4 0 0 1 176.29,174.02"/><path id="p27" d="M40.76,487.77 A459.4,459.4 0 0 1 214.17,140.35"/><path id="p28" d="M42.91,453.97 A459.4,459.4 0 0 1 241.45,120.26"/><path id="p29" d="M51.02,402.72 A459.4,459.4 0 0 1 285.92,93.53"/><path id="p30" d="M82.8,307.67 A459.4,459.4 0 0 1 379.16,56.78"/><path id="p31" d="M129.99,227.71 A459.4,459.4 0 0 1 470.75,41.53"/><path id="p32" d="M157.8,193.5 A459.4,459.4 0 0 1 514.83,40.84"/><path id="p33" d="M173.18,177.15 A459.4,459.4 0 0 1 537.24,42.11"/><path id="p34" d="M191.11,159.94 A459.4,459.4 0 0 1 561.95,44.8"/><path id="p35" d="M220.33,135.53 A459.4,459.4 0 0 1 599.43,51.49"/><path id="p36" d="M260.99,107.67 A459.4,459.4 0 0 1 646.91,64.72"/><path id="p37" d="M292.15,90.31 A459.4,459.4 0 0 1 680.24,77.43"/></defs>
<g font-size="11" fill="#444" opacity="0.995"><text><textPath href="#p0" startOffset="50%" text-anchor="middle" textLength="58.38" lengthAdjust="spacingAndGlyphs">TcY46_Chr6</textPath></text><text><textPath href="#p1" startOffset="50%" text-anchor="middle" textLength="92.47" lengthAdjust="spacingAndGlyphs">TcDm25_Chr09_H1</textPath></text><text><textPath href="#p2" startOffset="50%" text-anchor="middle" textLength="92.47" lengthAdjust="spacingAndGlyphs">TcDm25_Chr09_H2</textPath></text><text><textPath href="#p3" startOffset="50%" text-anchor="middle" textLength="92.47" lengthAdjust="spacingAndGlyphs">TcDm25_Chr05_H1</textPath></text><text><textPath href="#p4" startOffset="50%" text-anchor="middle" textLength="92.47" lengthAdjust="spacingAndGlyphs">TcDm25_Chr05_H2</textPath></text><text><textPath href="#p5" startOffset="50%" text-anchor="middle" textLength="92.47" lengthAdjust="spacingAndGlyphs">TcDm25_Chr28_H1</textPath></text><text><textPath href="#p6" startOffset="50%" text-anchor="middle" textLength="92.47" lengthAdjust="spacingAndGlyphs">TcDm25_Chr38_H2</textPath></text><text><textPath href="#p7" startOffset="50%" text-anchor="middle" textLength="92.47" lengthAdjust="spacingAndGlyphs">TcDm25_Chr24_H1</textPath></text><text><textPath href="#p8" startOffset="50%" text-anchor="middle" textLength="92.47" lengthAdjust="spacingAndGlyphs">TcDm25_Chr28_H2</textPath></text><text><textPath href="#p9" startOffset="50%" text-anchor="middle" textLength="92.47" lengthAdjust="spacingAndGlyphs">TcDm25_Chr17_H1</textPath></text><text><textPath href="#p10" startOffset="50%" text-anchor="middle" textLength="92.47" lengthAdjust="spacingAndGlyphs">TcDm25_Chr25_H1</textPath></text><text><textPath href="#p11" startOffset="50%" text-anchor="middle" textLength="92.47" lengthAdjust="spacingAndGlyphs">TcDm25_Chr13_H1</textPath></text><text><textPath href="#p12" startOffset="50%" text-anchor="middle" textLength="92.47" lengthAdjust="spacingAndGlyphs">TcDm25_Chr07_H1</textPath></text><text><textPath href="#p13" startOffset="50%" text-anchor="middle" textLength="92.47" lengthAdjust="spacingAndGlyphs">TcDm25_Chr19_H1</textPath></text><text><textPath href="#p14" startOffset="50%" text-anchor="middle" textLength="109.23" lengthAdjust="spacingAndGlyphs">TcDm25_Chr06_H2_c1</textPath></text><text><textPath href="#p15" startOffset="50%" text-anchor="middle" textLength="92.47" lengthAdjust="spacingAndGlyphs">TcDm25_Chr32_H1</textPath></text><text><textPath href="#p16" startOffset="50%" text-anchor="middle" textLength="109.23" lengthAdjust="spacingAndGlyphs">TcDm25_Chr30_H1_c1</textPath></text><text><textPath href="#p17" startOffset="50%" text-anchor="middle" textLength="92.47" lengthAdjust="spacingAndGlyphs">TcDm25_Chr02_H1</textPath></text><text><textPath href="#p18" startOffset="50%" text-anchor="middle" textLength="109.23" lengthAdjust="spacingAndGlyphs">TcDm25_Chr32_H2_c3</textPath></text><text><textPath href="#p19" startOffset="50%" text-anchor="middle" textLength="109.23" lengthAdjust="spacingAndGlyphs">TcDm25_Chr32_H2_c1</textPath></text><text><textPath href="#p20" startOffset="50%" text-anchor="middle" textLength="92.47" lengthAdjust="spacingAndGlyphs">TcDm25_Chr25_H2</textPath></text><text><textPath href="#p21" startOffset="50%" text-anchor="middle" textLength="92.47" lengthAdjust="spacingAndGlyphs">TcDm25_Chr31_H1</textPath></text><text><textPath href="#p22" startOffset="50%" text-anchor="middle" textLength="109.23" lengthAdjust="spacingAndGlyphs">TcDm25_Chr30_H2_c1</textPath></text><text><textPath href="#p23" startOffset="50%" text-anchor="middle" textLength="92.47" lengthAdjust="spacingAndGlyphs">TcDm25_Chr01_H1</textPath></text><text><textPath href="#p24" startOffset="50%" text-anchor="middle" textLength="109.23" lengthAdjust="spacingAndGlyphs">TcDm25_Chr04_H1_c1</textPath></text><text><textPath href="#p25" startOffset="50%" text-anchor="middle" textLength="92.47" lengthAdjust="spacingAndGlyphs">TcDm25_Chr10_H1</textPath></text><text><textPath href="#p26" startOffset="50%" text-anchor="middle" textLength="109.23" lengthAdjust="spacingAndGlyphs">TcDm25_Chr10_H2_c1</textPath></text><text><textPath href="#p27" startOffset="50%" text-anchor="middle" textLength="92.47" lengthAdjust="spacingAndGlyphs">TcDm25_Chr23_H1</textPath></text><text><textPath href="#p28" startOffset="50%" text-anchor="middle" textLength="92.47" lengthAdjust="spacingAndGlyphs">TcDm25_Chr27_H1</textPath></text><text><textPath href="#p29" startOffset="50%" text-anchor="middle" textLength="109.23" lengthAdjust="spacingAndGlyphs">TcDm25_Chr11_H1_c1</textPath></text><text><textPath href="#p30" startOffset="50%" text-anchor="middle" textLength="92.47" lengthAdjust="spacingAndGlyphs">TcDm25_Chr06_H1</textPath></text><text><textPath href="#p31" startOffset="50%" text-anchor="middle" textLength="92.47" lengthAdjust="spacingAndGlyphs">TcDm25_Chr20_H1</textPath></text><text><textPath href="#p32" startOffset="50%" text-anchor="middle" textLength="92.47" lengthAdjust="spacingAndGlyphs">TcDm25_Chr02_H2</textPath></text><text><textPath href="#p33" startOffset="50%" text-anchor="middle" textLength="92.47" lengthAdjust="spacingAndGlyphs">TcDm25_Chr21_H2</textPath></text><text><textPath href="#p34" startOffset="50%" text-anchor="middle" textLength="92.47" lengthAdjust="spacingAndGlyphs">TcDm25_Chr14_H2</textPath></text><text><textPath href="#p35" startOffset="50%" text-anchor="middle" textLength="92.47" lengthAdjust="spacingAndGlyphs">TcDm25_Chr22_H2</textPath></text><text><textPath href="#p36" startOffset="50%" text-anchor="middle" textLength="109.23" lengthAdjust="spacingAndGlyphs">TcDm25_Chr05_H2_c3</textPath></text><text><textPath href="#p37" startOffset="50%" text-anchor="middle" textLength="92.47" lengthAdjust="spacingAndGlyphs">TcDm25_Chr03_H2</textPath></text></g>
</svg>
</body></html>
